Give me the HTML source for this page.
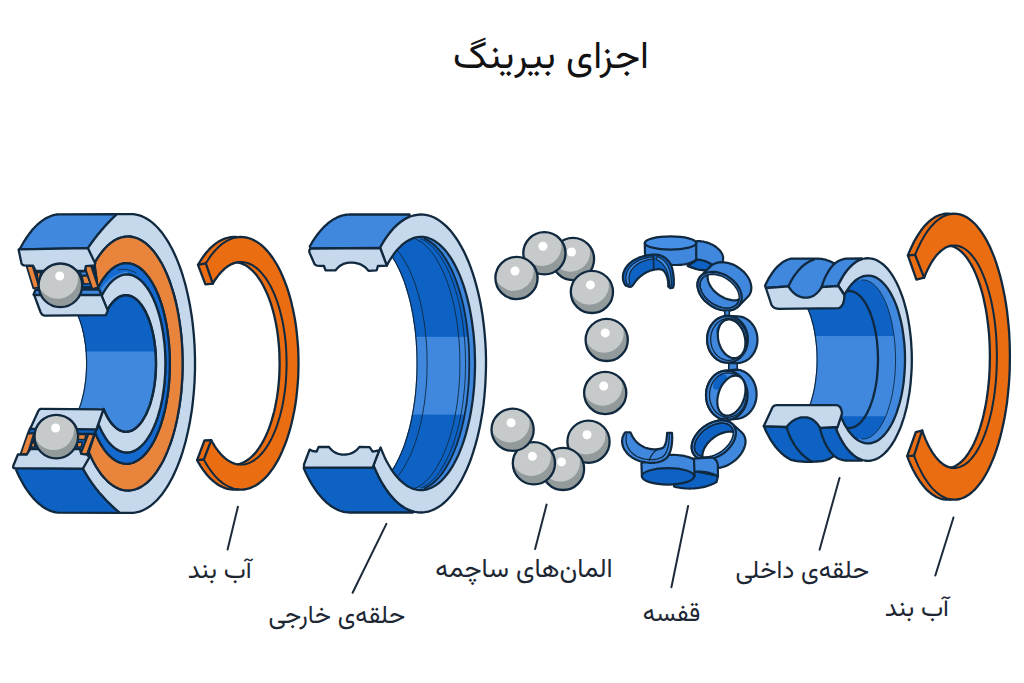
<!DOCTYPE html>
<html lang="fa" dir="rtl">
<head>
<meta charset="utf-8">
<title>اجزای بیرینگ</title>
<style>
html,body{margin:0;padding:0;background:#fff;}
body{width:1024px;height:683px;overflow:hidden;position:relative;}
svg{position:absolute;left:0;top:0;display:block;}
text{font-family:"Vazirmatn","Liberation Sans","DejaVu Sans",sans-serif;fill:#1d2733;}
</style>
</head>
<body>
<svg width="1024" height="683" viewBox="0 0 1024 683">
<g>
<path d="M198 264.9 L198 264.9 L199.7 262 L201.4 259.3 L203.2 256.7 L205 254.3 L206.8 252 L208.7 249.9 L210.6 247.9 L212.6 246.1 L214.6 244.4 L216.6 242.9 L218.6 241.6 L220.7 240.4 L222.7 239.5 L224.8 238.6 L226.9 238 L229 237.5 L231.1 237.2 L233.3 237 L235.4 237 L237.5 237.2 L237.5 237.2 L240.6 237 L243.8 237.1 L246.9 237.7 L250 238.5 L253 239.8 L256.1 241.4 L259.1 243.4 L262 245.7 L264.9 248.4 L267.7 251.4 L270.4 254.8 L273.1 258.5 L275.6 262.5 L278.1 266.7 L280.4 271.3 L282.6 276.2 L284.7 281.3 L286.7 286.6 L288.5 292.2 L290.2 297.9 L291.7 303.9 L293.1 310.1 L294.4 316.4 L295.5 322.8 L296.4 329.4 L297.1 336 L297.7 342.8 L298.2 349.6 L298.4 356.4 L298.5 363.3 L298.4 370.2 L298.2 377 L297.7 383.8 L297.1 390.6 L296.4 397.2 L295.5 403.8 L294.4 410.2 L293.1 416.5 L291.7 422.7 L290.2 428.7 L288.5 434.4 L286.7 440 L284.7 445.3 L282.6 450.4 L280.4 455.3 L278.1 459.9 L275.6 464.1 L273.1 468.1 L270.4 471.8 L267.7 475.2 L264.9 478.2 L262 480.9 L259.1 483.2 L256.1 485.2 L253 486.8 L250 488.1 L246.9 488.9 L243.8 489.5 L240.6 489.6 L237.5 489.4 L237.5 489.4 L235.3 489.6 L233.2 489.6 L231 489.4 L228.8 489.1 L226.6 488.6 L224.5 487.9 L222.4 487 L220.2 485.9 L218.1 484.7 L216.1 483.3 L214 481.7 L212 480 L210 478.1 L208 476 L206.1 473.7 L204.2 471.3 L202.4 468.8 L200.6 466.1 L198.8 463.2 L197.1 460.2 L197.1 460.2 L204.5 440.5 L211.3 440.2 L211.3 440.2 L212.4 442.3 L213.6 444.2 L214.7 446.1 L215.9 447.9 L217.2 449.6 L218.4 451.3 L219.7 452.8 L220.9 454.3 L222.2 455.6 L223.6 456.9 L224.9 458.1 L226.3 459.2 L227.6 460.1 L229 461 L230.4 461.8 L231.8 462.5 L233.2 463.1 L234.6 463.6 L236.1 464 L237.5 464.3 L237.5 464.3 L239.8 463.8 L242 463 L244.2 462 L246.4 460.8 L248.6 459.3 L250.7 457.5 L252.8 455.6 L254.9 453.4 L256.9 451 L258.8 448.3 L260.7 445.5 L262.5 442.4 L264.2 439.2 L265.9 435.7 L267.5 432.1 L269 428.3 L270.4 424.4 L271.7 420.3 L272.9 416.1 L274.1 411.7 L275.1 407.2 L276 402.6 L276.9 397.9 L277.6 393.1 L278.2 388.3 L278.7 383.3 L279.1 378.4 L279.4 373.4 L279.5 368.3 L279.6 363.3 L279.5 358.3 L279.4 353.2 L279.1 348.2 L278.7 343.3 L278.2 338.3 L277.6 333.5 L276.9 328.7 L276 324 L275.1 319.4 L274.1 314.9 L272.9 310.5 L271.7 306.3 L270.4 302.2 L269 298.3 L267.5 294.5 L265.9 290.9 L264.2 287.4 L262.5 284.2 L260.7 281.1 L258.8 278.3 L256.9 275.6 L254.9 273.2 L252.8 271 L250.7 269.1 L248.6 267.3 L246.4 265.8 L244.2 264.6 L242 263.6 L239.8 262.8 L237.5 262.3 L237.5 262.3 L236.2 262.6 L234.8 262.9 L233.5 263.4 L232.2 263.9 L230.8 264.5 L229.5 265.3 L228.2 266 L227 266.9 L225.7 267.9 L224.4 268.9 L223.2 270.1 L221.9 271.3 L220.7 272.6 L219.5 273.9 L218.4 275.4 L217.2 276.9 L216.1 278.5 L214.9 280.2 L213.8 281.9 L212.8 283.7 L212.8 283.7 L205.4 284.3Z" fill="#eb6d12" stroke="#10293f" stroke-width="2.3" stroke-linejoin="round" stroke-linecap="round" />
<path d="M198 264.9 L205.8 263.4" fill="none" stroke="#10293f" stroke-width="2.3" stroke-linejoin="round" stroke-linecap="round" />
<path d="M205.8 263.4 L205.8 263.4 L207.2 261.2 L208.6 259 L210 256.9 L211.5 254.9 L213 253 L214.5 251.2 L216 249.6 L217.6 248 L219.1 246.5 L220.7 245.1 L222.4 243.8 L224 242.6 L225.7 241.6 L227.3 240.6 L229 239.8 L230.7 239.1 L232.4 238.4 L234.1 237.9 L235.8 237.5 L237.5 237.2" fill="none" stroke="#10293f" stroke-width="2.0" stroke-linejoin="round" stroke-linecap="round" />
<path d="M205.8 263.4 L212.8 283.7" fill="none" stroke="#10293f" stroke-width="2.3" stroke-linejoin="round" stroke-linecap="round" />
<path d="M197.1 460.2 L203.8 459.5" fill="none" stroke="#10293f" stroke-width="2.3" stroke-linejoin="round" stroke-linecap="round" />
<path d="M237.5 489.4 L235.7 489.1 L233.8 488.6 L232 488 L230.2 487.3 L228.4 486.5 L226.6 485.5 L224.8 484.5 L223 483.3 L221.3 481.9 L219.5 480.5 L217.8 478.9 L216.1 477.2 L214.5 475.4 L212.9 473.4 L211.3 471.4 L209.7 469.2 L208.2 467 L206.7 464.6 L205.2 462.1 L203.8 459.5 L203.8 459.5" fill="none" stroke="#10293f" stroke-width="2.0" stroke-linejoin="round" stroke-linecap="round" />
<path d="M203.8 459.5 L211.3 440.2" fill="none" stroke="#10293f" stroke-width="2.3" stroke-linejoin="round" stroke-linecap="round" />
<path d="M237.5 262.3 L240 262 L242.5 262.1 L245 262.4 L247.5 263 L250 264 L252.4 265.2 L254.8 266.8 L257.2 268.6 L259.5 270.7 L261.7 273.1 L263.9 275.8 L266.1 278.7 L268.1 281.9 L270.1 285.3 L272 289 L273.8 292.9 L275.5 297 L277.1 301.3 L278.5 305.8 L279.9 310.4 L281.1 315.2 L282.3 320.2 L283.3 325.3 L284.1 330.5 L284.9 335.8 L285.5 341.2 L286 346.7 L286.3 352.2 L286.5 357.7 L286.6 363.3 L286.5 368.9 L286.3 374.4 L286 379.9 L285.5 385.4 L284.9 390.8 L284.1 396.1 L283.3 401.3 L282.3 406.4 L281.1 411.4 L279.9 416.2 L278.5 420.8 L277.1 425.3 L275.5 429.6 L273.8 433.7 L272 437.6 L270.1 441.3 L268.1 444.7 L266.1 447.9 L263.9 450.8 L261.7 453.5 L259.5 455.9 L257.2 458 L254.8 459.8 L252.4 461.4 L250 462.6 L247.5 463.6 L245 464.2 L242.5 464.5 L240 464.6 L237.5 464.3" fill="none" stroke="#10293f" stroke-width="2.0" stroke-linejoin="round" stroke-linecap="round" />
</g>
<g>
<path d="M907.9 255.4 L907.9 255.4 L909.6 251.2 L911.4 247.2 L913.2 243.4 L915.1 239.8 L917.1 236.4 L919.1 233.3 L921.1 230.3 L923.2 227.6 L925.4 225.1 L927.6 222.9 L929.8 220.9 L932 219.1 L934.3 217.6 L936.6 216.3 L939 215.3 L941.3 214.5 L943.6 214 L946 213.7 L948.3 213.7 L950.7 214 L950.7 214 L953.7 213.7 L956.8 213.9 L959.8 214.4 L962.8 215.4 L965.8 216.8 L968.7 218.6 L971.6 220.9 L974.5 223.5 L977.3 226.6 L980 230 L982.7 233.8 L985.2 237.9 L987.7 242.4 L990.1 247.3 L992.3 252.5 L994.5 257.9 L996.5 263.7 L998.4 269.8 L1000.2 276.1 L1001.8 282.6 L1003.3 289.4 L1004.7 296.4 L1005.9 303.5 L1007 310.8 L1007.8 318.2 L1008.6 325.8 L1009.2 333.4 L1009.6 341.2 L1009.8 348.9 L1009.9 356.7 L1009.8 364.5 L1009.6 372.2 L1009.2 380 L1008.6 387.6 L1007.8 395.2 L1007 402.6 L1005.9 409.9 L1004.7 417 L1003.3 424 L1001.8 430.8 L1000.2 437.3 L998.4 443.6 L996.5 449.7 L994.5 455.5 L992.3 460.9 L990.1 466.1 L987.7 471 L985.2 475.5 L982.7 479.6 L980 483.4 L977.3 486.8 L974.5 489.9 L971.6 492.5 L968.7 494.8 L965.8 496.6 L962.8 498 L959.8 499 L956.8 499.5 L953.7 499.7 L950.7 499.4 L950.7 499.4 L948.3 499.7 L945.9 499.7 L943.5 499.4 L941.1 498.8 L938.7 498 L936.3 497 L934 495.6 L931.7 494 L929.4 492.2 L927.1 490.1 L924.9 487.7 L922.7 485.1 L920.6 482.3 L918.5 479.2 L916.4 475.9 L914.5 472.4 L912.5 468.7 L910.7 464.7 L908.9 460.6 L907.2 456.2 L907.2 456.2 L915.8 432.1 L922.2 430.5 L922.2 430.5 L923.3 433.6 L924.5 436.7 L925.7 439.6 L926.9 442.3 L928.2 445 L929.5 447.5 L930.9 449.9 L932.2 452.1 L933.7 454.3 L935.1 456.2 L936.6 458.1 L938.1 459.7 L939.6 461.3 L941.1 462.7 L942.7 463.9 L944.3 464.9 L945.9 465.9 L947.5 466.6 L949.1 467.2 L950.7 467.6 L950.7 467.6 L952.8 467 L954.9 466.2 L957 465 L959 463.6 L961 462 L963 460.1 L965 457.9 L966.9 455.5 L968.7 452.8 L970.5 449.9 L972.3 446.8 L974 443.4 L975.6 439.8 L977.1 436.1 L978.6 432.1 L980 428 L981.3 423.6 L982.6 419.1 L983.7 414.5 L984.7 409.7 L985.7 404.8 L986.6 399.7 L987.3 394.6 L988 389.4 L988.6 384 L989.1 378.6 L989.4 373.2 L989.7 367.7 L989.8 362.2 L989.9 356.7 L989.8 351.2 L989.7 345.7 L989.4 340.2 L989.1 334.8 L988.6 329.4 L988 324 L987.3 318.8 L986.6 313.7 L985.7 308.6 L984.7 303.7 L983.7 298.9 L982.6 294.3 L981.3 289.8 L980 285.4 L978.6 281.3 L977.1 277.3 L975.6 273.6 L974 270 L972.3 266.6 L970.5 263.5 L968.7 260.6 L966.9 257.9 L965 255.5 L963 253.3 L961 251.4 L959 249.8 L957 248.4 L954.9 247.2 L952.8 246.4 L950.7 245.8 L950.7 245.8 L949.2 246.2 L947.7 246.7 L946.3 247.3 L944.8 248.1 L943.4 249.1 L941.9 250.1 L940.5 251.3 L939.1 252.6 L937.7 254 L936.3 255.6 L935 257.3 L933.7 259.1 L932.4 261 L931.1 263.1 L929.9 265.2 L928.7 267.5 L927.5 269.9 L926.3 272.4 L925.2 275 L924.1 277.7 L924.1 277.7 L916.4 279.7Z" fill="#eb6d12" stroke="#10293f" stroke-width="2.3" stroke-linejoin="round" stroke-linecap="round" />
<path d="M907.9 255.4 L915.1 254.9" fill="none" stroke="#10293f" stroke-width="2.3" stroke-linejoin="round" stroke-linecap="round" />
<path d="M915.1 254.9 L915.1 254.9 L916.5 251.4 L918 248 L919.6 244.7 L921.1 241.6 L922.8 238.7 L924.4 235.8 L926.1 233.2 L927.9 230.7 L929.6 228.4 L931.4 226.2 L933.3 224.2 L935.1 222.3 L937 220.7 L938.9 219.2 L940.9 217.9 L942.8 216.7 L944.8 215.8 L946.7 215 L948.7 214.4 L950.7 214" fill="none" stroke="#10293f" stroke-width="2.0" stroke-linejoin="round" stroke-linecap="round" />
<path d="M915.1 254.9 L924.1 277.7" fill="none" stroke="#10293f" stroke-width="2.3" stroke-linejoin="round" stroke-linecap="round" />
<path d="M907.2 456.2 L914 455.7" fill="none" stroke="#10293f" stroke-width="2.3" stroke-linejoin="round" stroke-linecap="round" />
<path d="M950.7 499.4 L948.6 499 L946.6 498.4 L944.5 497.5 L942.5 496.5 L940.5 495.3 L938.5 493.9 L936.5 492.3 L934.6 490.5 L932.6 488.6 L930.7 486.4 L928.9 484.1 L927.1 481.6 L925.3 478.9 L923.5 476.1 L921.8 473 L920.2 469.9 L918.5 466.6 L917 463.1 L915.5 459.4 L914 455.7 L914 455.7" fill="none" stroke="#10293f" stroke-width="2.0" stroke-linejoin="round" stroke-linecap="round" />
<path d="M914 455.7 L922.2 430.5" fill="none" stroke="#10293f" stroke-width="2.3" stroke-linejoin="round" stroke-linecap="round" />
<path d="M950.7 245.8 L953 245.4 L955.4 245.4 L957.7 245.8 L960.1 246.5 L962.4 247.5 L964.7 248.8 L967 250.5 L969.2 252.5 L971.4 254.8 L973.5 257.4 L975.6 260.3 L977.6 263.5 L979.5 267 L981.4 270.8 L983.1 274.8 L984.8 279.1 L986.4 283.6 L987.9 288.4 L989.3 293.3 L990.6 298.4 L991.8 303.7 L992.8 309.2 L993.8 314.8 L994.6 320.6 L995.3 326.4 L995.9 332.4 L996.3 338.4 L996.6 344.5 L996.8 350.6 L996.9 356.7 L996.8 362.8 L996.6 368.9 L996.3 375 L995.9 381 L995.3 387 L994.6 392.8 L993.8 398.6 L992.8 404.2 L991.8 409.7 L990.6 415 L989.3 420.1 L987.9 425 L986.4 429.8 L984.8 434.3 L983.1 438.6 L981.4 442.6 L979.5 446.4 L977.6 449.9 L975.6 453.1 L973.5 456 L971.4 458.6 L969.2 460.9 L967 462.9 L964.7 464.6 L962.4 465.9 L960.1 466.9 L957.7 467.6 L955.4 468 L953 468 L950.7 467.6" fill="none" stroke="#10293f" stroke-width="2.0" stroke-linejoin="round" stroke-linecap="round" />
</g>
<g>
<clipPath id="ob"><path d="M387.8 263.7 L390.2 259.5 L392.7 255.7 L395.3 252.1 L398 248.9 L400.8 246.1 L403.6 243.7 L406.5 241.6 L409.4 239.9 L412.4 238.5 L415.4 237.6 L418.4 237.1 L421.4 236.9 L424.4 237.1 L427.4 237.8 L430.4 238.8 L433.3 240.2 L436.2 242.1 L439.1 244.2 L441.9 246.8 L444.7 249.7 L447.3 253 L449.9 256.6 L452.4 260.6 L454.8 264.8 L457.1 269.4 L459.3 274.3 L461.4 279.4 L463.3 284.9 L465.1 290.5 L466.8 296.4 L468.3 302.5 L469.7 308.8 L470.9 315.3 L472 321.9 L472.9 328.6 L473.7 335.5 L474.2 342.4 L474.7 349.4 L474.9 356.4 L475 363.5 L474.9 370.6 L474.7 377.6 L474.2 384.6 L473.7 391.5 L472.9 398.4 L472 405.1 L470.9 411.7 L469.7 418.2 L468.3 424.5 L466.8 430.6 L465.1 436.5 L463.3 442.1 L461.4 447.6 L459.3 452.7 L457.1 457.6 L454.8 462.2 L452.4 466.4 L449.9 470.4 L447.3 474 L444.7 477.3 L441.9 480.2 L439.1 482.8 L436.2 484.9 L433.3 486.8 L430.4 488.2 L427.4 489.2 L424.4 489.9 L421.4 490.1 L418.4 489.9 L415.4 489.4 L412.4 488.5 L409.4 487.1 L406.5 485.4 L403.6 483.3 L400.8 480.9 L398 478.1 L395.3 474.9 L392.7 471.3 L390.2 467.5 L387.8 463.3 L376.5 485.8 L378.7 484.2 L381 482.5 L383.2 480.5 L385.3 478.2 L387.4 475.8 L389.5 473.1 L391.5 470.3 L393.5 467.2 L395.4 463.9 L397.2 460.5 L399 456.8 L400.7 453 L402.3 449 L403.9 444.9 L405.3 440.6 L406.7 436.1 L408 431.5 L409.3 426.8 L410.4 422 L411.4 417 L412.4 411.9 L413.2 406.8 L414 401.6 L414.7 396.3 L415.2 390.9 L415.7 385.5 L416 380 L416.3 374.5 L416.4 369 L416.5 363.5 L416.4 358 L416.3 352.5 L416 347 L415.7 341.5 L415.2 336.1 L414.7 330.7 L414 325.4 L413.2 320.2 L412.4 315.1 L411.4 310 L410.4 305 L409.3 300.2 L408 295.5 L406.7 290.9 L405.3 286.4 L403.9 282.1 L402.3 278 L400.7 274 L399 270.2 L397.2 266.5 L395.4 263.1 L393.5 259.8 L391.5 256.7 L389.5 253.9 L387.4 251.2 L385.3 248.8 L383.2 246.5 L381 244.5 L378.7 242.8 L376.5 241.2Z"/></clipPath>
<g clip-path="url(#ob)">
<rect x="330" y="200" width="160" height="137.3" fill="#0e62c4"/>
<rect x="330" y="336.8" width="160" height="78.3" fill="#3f88de"/>
<rect x="330" y="414.6" width="160" height="115.9" fill="#0e62c4"/>
<path d="M411.6 238.8 L414.7 237.8 L417.9 237.1 L421 236.9 L424.1 237.1 L427.3 237.8 L430.4 238.8 L433.5 240.3 L436.5 242.2 L439.5 244.5 L442.4 247.3 L445.2 250.4 L448 253.9 L450.7 257.7 L453.2 262 L455.7 266.5 L458.1 271.4 L460.3 276.6 L462.4 282.1 L464.3 287.9 L466.1 293.9 L467.8 300.2 L469.3 306.7 L470.6 313.4 L471.7 320.2 L472.7 327.2 L473.5 334.3 L474.2 341.5 L474.6 348.8 L474.9 356.1 L475 363.5 L474.9 370.9 L474.6 378.2 L474.2 385.5 L473.5 392.7 L472.7 399.8 L471.7 406.8 L470.6 413.6 L469.3 420.3 L467.8 426.8 L466.1 433.1 L464.3 439.1 L462.4 444.9 L460.3 450.4 L458.1 455.6 L455.7 460.5 L453.2 465 L450.7 469.3 L448 473.1 L445.2 476.6 L442.4 479.7 L439.5 482.5 L436.5 484.8 L433.5 486.7 L430.4 488.2 L427.3 489.2 L424.1 489.9 L421 490.1 L417.9 489.9 L414.7 489.2 L411.6 488.2 L424.7 488.2 L427.1 487 L429.6 485.6 L432 483.9 L434.4 482 L436.7 479.7 L439 477.3 L441.2 474.6 L443.4 471.6 L445.5 468.5 L447.5 465 L449.5 461.4 L451.4 457.6 L453.3 453.5 L455 449.3 L456.7 444.9 L458.2 440.3 L459.7 435.5 L461.1 430.6 L462.4 425.5 L463.6 420.3 L464.6 415 L465.6 409.6 L466.5 404 L467.2 398.4 L467.8 392.7 L468.4 386.9 L468.8 381.1 L469.1 375.3 L469.2 369.4 L469.3 363.5 L469.2 357.6 L469.1 351.7 L468.8 345.9 L468.4 340.1 L467.8 334.3 L467.2 328.6 L466.5 323 L465.6 317.4 L464.6 312 L463.6 306.7 L462.4 301.5 L461.1 296.4 L459.7 291.5 L458.2 286.7 L456.7 282.1 L455 277.7 L453.3 273.5 L451.4 269.4 L449.5 265.6 L447.5 262 L445.5 258.5 L443.4 255.4 L441.2 252.4 L439 249.7 L436.7 247.3 L434.4 245 L432 243.1 L429.6 241.4 L427.1 240 L424.7 238.8Z" fill="#3f88de" stroke="none" stroke-width="0" stroke-linejoin="round" stroke-linecap="round" />
<path d="M382.5 238.8 L384.9 240 L387.4 241.4 L389.8 243.1 L392.2 245 L394.5 247.3 L396.8 249.7 L399 252.4 L401.2 255.4 L403.3 258.5 L405.3 262 L407.3 265.6 L409.2 269.4 L411.1 273.5 L412.8 277.7 L414.5 282.1 L416 286.7 L417.5 291.5 L418.9 296.4 L420.2 301.5 L421.4 306.7 L422.4 312 L423.4 317.4 L424.3 323 L425 328.6 L425.6 334.3 L426.2 340.1 L426.6 345.9 L426.9 351.7 L427 357.6 L427.1 363.5 L427 369.4 L426.9 375.3 L426.6 381.1 L426.2 386.9 L425.6 392.7 L425 398.4 L424.3 404 L423.4 409.6 L422.4 415 L421.4 420.3 L420.2 425.5 L418.9 430.6 L417.5 435.5 L416 440.3 L414.5 444.9 L412.8 449.3 L411.1 453.5 L409.2 457.6 L407.3 461.4 L405.3 465 L403.3 468.5 L401.2 471.6 L399 474.6 L396.8 477.3 L394.5 479.7 L392.2 482 L389.8 483.9 L387.4 485.6 L384.9 487 L382.5 488.2" fill="none" stroke="#10293f" stroke-width="0.9" stroke-linejoin="round" stroke-linecap="round" />
<path d="M415.3 238.8 L417.7 240 L420.2 241.4 L422.6 243.1 L425 245 L427.3 247.3 L429.6 249.7 L431.8 252.4 L434 255.4 L436.1 258.5 L438.1 262 L440.1 265.6 L442 269.4 L443.9 273.5 L445.6 277.7 L447.3 282.1 L448.8 286.7 L450.3 291.5 L451.7 296.4 L453 301.5 L454.2 306.7 L455.2 312 L456.2 317.4 L457.1 323 L457.8 328.6 L458.4 334.3 L459 340.1 L459.4 345.9 L459.7 351.7 L459.8 357.6 L459.9 363.5 L459.8 369.4 L459.7 375.3 L459.4 381.1 L459 386.9 L458.4 392.7 L457.8 398.4 L457.1 404 L456.2 409.6 L455.2 415 L454.2 420.3 L453 425.5 L451.7 430.6 L450.3 435.5 L448.8 440.3 L447.3 444.9 L445.6 449.3 L443.9 453.5 L442 457.6 L440.1 461.4 L438.1 465 L436.1 468.5 L434 471.6 L431.8 474.6 L429.6 477.3 L427.3 479.7 L425 482 L422.6 483.9 L420.2 485.6 L417.7 487 L415.3 488.2" fill="none" stroke="#10293f" stroke-width="0.9" stroke-linejoin="round" stroke-linecap="round" />
<path d="M420.9 238.8 L423.3 240 L425.8 241.4 L428.2 243.1 L430.6 245 L432.9 247.3 L435.2 249.7 L437.4 252.4 L439.6 255.4 L441.7 258.5 L443.7 262 L445.7 265.6 L447.6 269.4 L449.5 273.5 L451.2 277.7 L452.9 282.1 L454.4 286.7 L455.9 291.5 L457.3 296.4 L458.6 301.5 L459.8 306.7 L460.8 312 L461.8 317.4 L462.7 323 L463.4 328.6 L464 334.3 L464.6 340.1 L465 345.9 L465.3 351.7 L465.4 357.6 L465.5 363.5 L465.4 369.4 L465.3 375.3 L465 381.1 L464.6 386.9 L464 392.7 L463.4 398.4 L462.7 404 L461.8 409.6 L460.8 415 L459.8 420.3 L458.6 425.5 L457.3 430.6 L455.9 435.5 L454.4 440.3 L452.9 444.9 L451.2 449.3 L449.5 453.5 L447.6 457.6 L445.7 461.4 L443.7 465 L441.7 468.5 L439.6 471.6 L437.4 474.6 L435.2 477.3 L432.9 479.7 L430.6 482 L428.2 483.9 L425.8 485.6 L423.3 487 L420.9 488.2" fill="none" stroke="#10293f" stroke-width="0.9" stroke-linejoin="round" stroke-linecap="round" />
<path d="M424.7 238.8 L427.1 240 L429.6 241.4 L432 243.1 L434.4 245 L436.7 247.3 L439 249.7 L441.2 252.4 L443.4 255.4 L445.5 258.5 L447.5 262 L449.5 265.6 L451.4 269.4 L453.3 273.5 L455 277.7 L456.7 282.1 L458.2 286.7 L459.7 291.5 L461.1 296.4 L462.4 301.5 L463.6 306.7 L464.6 312 L465.6 317.4 L466.5 323 L467.2 328.6 L467.8 334.3 L468.4 340.1 L468.8 345.9 L469.1 351.7 L469.2 357.6 L469.3 363.5 L469.2 369.4 L469.1 375.3 L468.8 381.1 L468.4 386.9 L467.8 392.7 L467.2 398.4 L466.5 404 L465.6 409.6 L464.6 415 L463.6 420.3 L462.4 425.5 L461.1 430.6 L459.7 435.5 L458.2 440.3 L456.7 444.9 L455 449.3 L453.3 453.5 L451.4 457.6 L449.5 461.4 L447.5 465 L445.5 468.5 L443.4 471.6 L441.2 474.6 L439 477.3 L436.7 479.7 L434.4 482 L432 483.9 L429.6 485.6 L427.1 487 L424.7 488.2" fill="none" stroke="#10293f" stroke-width="1.8" stroke-linejoin="round" stroke-linecap="round" />
<path d="M376.5 241.2 L378.7 242.8 L381 244.5 L383.2 246.5 L385.3 248.8 L387.4 251.2 L389.5 253.9 L391.5 256.7 L393.5 259.8 L395.4 263.1 L397.2 266.5 L399 270.2 L400.7 274 L402.3 278 L403.9 282.1 L405.3 286.4 L406.7 290.9 L408 295.5 L409.3 300.2 L410.4 305 L411.4 310 L412.4 315.1 L413.2 320.2 L414 325.4 L414.7 330.7 L415.2 336.1 L415.7 341.5 L416 347 L416.3 352.5 L416.4 358 L416.5 363.5 L416.4 369 L416.3 374.5 L416 380 L415.7 385.5 L415.2 390.9 L414.7 396.3 L414 401.6 L413.2 406.8 L412.4 411.9 L411.4 417 L410.4 422 L409.3 426.8 L408 431.5 L406.7 436.1 L405.3 440.6 L403.9 444.9 L402.3 449 L400.7 453 L399 456.8 L397.2 460.5 L395.4 463.9 L393.5 467.2 L391.5 470.3 L389.5 473.1 L387.4 475.8 L385.3 478.2 L383.2 480.5 L381 482.5 L378.7 484.2 L376.5 485.8" fill="none" stroke="#10293f" stroke-width="2.3" stroke-linejoin="round" stroke-linecap="round" />
</g>
<path d="M310.6 248.6 L309.8 246.4 L311.3 243.8 L312.7 241.4 L314.2 239.1 L315.7 236.9 L317.3 234.7 L318.9 232.7 L320.5 230.8 L322.1 229 L323.7 227.2 L325.4 225.6 L327.1 224.1 L328.7 222.7 L330.5 221.4 L332.2 220.2 L333.9 219.1 L335.7 218.2 L337.4 217.3 L339.2 216.6 L341 215.9 L342.8 215.4 L344.6 215 L346.4 214.7 L348.2 214.6 L350 214.5 L409.5 214.5 L409.6 216.8 L407.6 217.7 L405.6 218.7 L403.6 219.9 L401.7 221.2 L399.7 222.7 L397.8 224.3 L395.9 226.1 L394 228 L392.2 230 L390.3 232.1 L388.5 234.4 L386.8 236.8 L385.1 239.4 L383.4 242 L381.7 244.8 L380.1 247.7 L380.2 248Z" fill="#3f88de" stroke="#10293f" stroke-width="2.3" stroke-linejoin="round" stroke-linecap="round" />
<path d="M304 467.4 L303.7 468.1 L305.2 471.5 L306.8 474.9 L308.4 478.1 L310.1 481.1 L311.8 484.1 L313.6 486.9 L315.4 489.6 L317.2 492.2 L319.1 494.6 L321 496.8 L322.9 499 L324.9 500.9 L326.9 502.8 L328.9 504.4 L331 506 L333 507.3 L335.1 508.5 L337.2 509.6 L339.3 510.5 L341.4 511.2 L343.6 511.8 L345.7 512.2 L347.9 512.4 L350 512.5 L413 512.5 L412.1 511.1 L409.3 510.1 L406.6 508.8 L404 507.3 L401.3 505.5 L398.7 503.5 L396.1 501.2 L393.6 498.6 L391.1 495.8 L388.7 492.8 L386.3 489.5 L384 486.1 L381.8 482.3 L379.6 478.4 L377.5 474.3 L375.5 470 L373.6 465.5 L372.6 467.6Z" fill="#0e62c4" stroke="#10293f" stroke-width="2.3" stroke-linejoin="round" stroke-linecap="round" />
<path d="M380.2 248 L380.1 247.7 L382.8 243 L385.5 238.7 L388.4 234.6 L391.3 231 L394.3 227.6 L397.4 224.7 L400.6 222.1 L403.8 219.8 L407 218 L410.3 216.5 L413.6 215.5 L417 214.8 L420.3 214.5 L423.7 214.6 L427 215.1 L430.3 216 L433.6 217.3 L436.9 219 L440.1 221.1 L443.3 223.6 L446.4 226.4 L449.5 229.6 L452.4 233.1 L455.3 237 L458.1 241.2 L460.8 245.8 L463.4 250.6 L465.9 255.8 L468.3 261.2 L470.5 266.9 L472.6 272.9 L474.6 279.1 L476.4 285.6 L478.1 292.2 L479.6 299.1 L481 306.1 L482.2 313.2 L483.2 320.5 L484.1 327.9 L484.8 335.4 L485.4 343 L485.8 350.6 L486 358.3 L486 366 L485.8 373.7 L485.5 381.3 L485 388.9 L484.4 396.4 L483.6 403.9 L482.6 411.2 L481.4 418.4 L480.1 425.5 L478.6 432.4 L477 439.1 L475.2 445.6 L473.3 451.9 L471.3 458 L469.1 463.8 L466.8 469.3 L464.3 474.6 L461.8 479.6 L459.1 484.2 L456.3 488.6 L453.5 492.6 L450.5 496.2 L447.5 499.6 L444.4 502.5 L441.3 505.1 L438 507.3 L434.8 509.1 L431.5 510.5 L428.2 511.6 L424.8 512.2 L421.5 512.5 L418.1 512.4 L414.8 511.8 L411.5 510.9 L408.2 509.6 L404.9 507.9 L401.7 505.8 L398.5 503.3 L395.4 500.5 L392.4 497.3 L389.4 493.7 L386.5 489.8 L383.7 485.5 L381 481 L378.4 476.1 L376 470.9 L373.6 465.5 L372.6 467.6 L379.2 450.4 L380.6 447.5 L382.5 452.3 L384.5 456.9 L386.6 461.2 L388.9 465.2 L391.1 469 L393.5 472.5 L396 475.7 L398.5 478.6 L401.1 481.2 L403.7 483.4 L406.4 485.4 L409.1 487 L411.8 488.3 L414.6 489.2 L417.4 489.8 L420.2 490.1 L423 490 L425.8 489.6 L428.6 488.8 L431.4 487.7 L434.1 486.3 L436.8 484.6 L439.5 482.5 L442.1 480.1 L444.6 477.3 L447.1 474.3 L449.5 471 L451.9 467.4 L454.1 463.5 L456.3 459.3 L458.4 454.9 L460.3 450.2 L462.2 445.3 L464 440.2 L465.6 434.9 L467.1 429.3 L468.5 423.6 L469.8 417.8 L470.9 411.8 L471.9 405.6 L472.8 399.4 L473.5 393 L474.1 386.6 L474.5 380.1 L474.8 373.6 L475 367 L475 360.4 L474.8 353.9 L474.6 347.3 L474.1 340.8 L473.6 334.4 L472.8 328 L472 321.8 L471 315.6 L469.9 309.6 L468.6 303.7 L467.2 298 L465.7 292.5 L464.1 287.1 L462.3 282 L460.5 277.1 L458.5 272.4 L456.4 268 L454.3 263.8 L452 259.9 L449.7 256.2 L447.3 252.9 L444.8 249.8 L442.2 247.1 L439.6 244.7 L437 242.6 L434.3 240.8 L431.5 239.3 L428.8 238.2 L426 237.4 L423.2 237 L420.4 236.9 L417.6 237.2 L414.8 237.7 L412 238.7 L409.3 239.9 L406.6 241.5 L403.9 243.4 L401.2 245.7 L398.7 248.2 L396.1 251.1 L393.7 254.3 L391.3 257.8 L389 261.5 L386.8 265.6 L386.8 265.6Z" fill="#c6d8ec" stroke="#10293f" stroke-width="2.3" stroke-linejoin="round" stroke-linecap="round" />
<path d="M309.4 252.4 L309.4 252 L309.3 251.6 L309.3 251.3 L309.3 250.9 L309.4 250.6 L309.4 250.3 L309.5 250.1 L309.6 249.8 L309.7 249.6 L309.9 249.4 L310 249.2 L310.2 249.1 L310.4 248.9 L310.7 248.8 L310.9 248.7 L311.2 248.6 L311.5 248.6 L311.8 248.5 L312.1 248.5 L312.5 248.5 L380.2 248 L386.8 265.6 L377.9 266 L376.7 270.3 L368.5 270.8 L367.8 270 L367.1 269.2 L366.4 268.4 L365.6 267.7 L364.9 267.1 L364.1 266.5 L363.2 265.9 L362.4 265.4 L361.6 264.9 L360.7 264.5 L359.8 264.1 L358.9 263.8 L358 263.5 L357 263.3 L356.1 263.1 L355.1 262.9 L354.1 262.8 L353.1 262.7 L352 262.6 L351 262.6 L350 262.6 L349 262.7 L348 262.8 L347 262.9 L346.1 263.1 L345.2 263.4 L344.4 263.6 L343.5 263.9 L342.7 264.3 L342 264.7 L341.2 265.1 L340.5 265.5 L339.8 266 L339.1 266.5 L338.5 267.1 L337.9 267.7 L337.3 268.3 L336.7 268.9 L336.2 269.6 L335.7 270.3 L325.5 270.3 L324 266 L316.8 265.6 L314.6 264.2Z" fill="#c6d8ec" stroke="#10293f" stroke-width="2.3" stroke-linejoin="round" stroke-linecap="round" />
<path d="M304 467.4 L372.6 467.6 L379.2 450.4 L372.6 451.6 L369.6 447.2 L359.4 447 L358.7 447.8 L358.1 448.5 L357.4 449.2 L356.7 449.9 L356 450.5 L355.3 451.1 L354.5 451.6 L353.8 452.1 L353 452.5 L352.2 452.9 L351.4 453.2 L350.6 453.5 L349.8 453.8 L349 454 L348.1 454.2 L347.2 454.3 L346.3 454.5 L345.4 454.5 L344.5 454.6 L343.5 454.6 L342.5 454.6 L341.6 454.5 L340.7 454.4 L339.8 454.2 L339 454 L338.2 453.8 L337.4 453.5 L336.6 453.2 L335.8 452.9 L335.1 452.5 L334.4 452.1 L333.7 451.6 L333.1 451.1 L332.4 450.6 L331.8 450.1 L331.2 449.5 L330.6 448.9 L330.1 448.3 L329.5 447.7 L329 447 L318.6 447 L316.6 451.6 L312.5 451 L309.6 449.6 L304 464.5Z" fill="#c6d8ec" stroke="#10293f" stroke-width="2.3" stroke-linejoin="round" stroke-linecap="round" />
</g>
<g>
<clipPath id="ib"><path d="M839.7 305.6 L841.2 301.7 L842.8 298.1 L844.5 294.8 L846.3 291.6 L848.1 288.7 L850.1 286.1 L852.1 283.8 L854.1 281.7 L856.3 279.9 L858.4 278.5 L860.6 277.3 L862.9 276.4 L865.1 275.9 L867.4 275.6 L869.6 275.7 L871.9 276.1 L874.1 276.8 L876.3 277.8 L878.5 279.1 L880.7 280.7 L882.8 282.6 L884.8 284.7 L886.8 287.2 L888.7 289.9 L890.5 292.9 L892.3 296.2 L893.9 299.7 L895.5 303.4 L897 307.3 L898.3 311.4 L899.5 315.7 L900.7 320.1 L901.7 324.7 L902.5 329.4 L903.3 334.3 L903.9 339.2 L904.4 344.2 L904.7 349.3 L904.9 354.4 L905 359.5 L904.9 364.6 L904.7 369.7 L904.4 374.8 L903.9 379.8 L903.3 384.7 L902.5 389.6 L901.7 394.3 L900.7 398.9 L899.5 403.3 L898.3 407.6 L897 411.7 L895.5 415.6 L893.9 419.3 L892.3 422.8 L890.5 426.1 L888.7 429.1 L886.8 431.8 L884.8 434.3 L882.8 436.4 L880.7 438.3 L878.5 439.9 L876.3 441.2 L874.1 442.2 L871.9 442.9 L869.6 443.3 L867.4 443.4 L865.1 443.1 L862.9 442.6 L860.6 441.7 L858.4 440.5 L856.3 439.1 L854.1 437.3 L852.1 435.2 L850.1 432.9 L848.1 430.3 L846.3 427.4 L844.5 424.2 L842.8 420.9 L841.2 417.3 L839.7 413.4 L791.7 428.4 L793.1 427.8 L794.4 427 L795.8 426.1 L797.1 425 L798.4 423.8 L799.7 422.4 L800.9 420.9 L802.1 419.3 L803.3 417.5 L804.4 415.6 L805.5 413.6 L806.6 411.5 L807.6 409.3 L808.6 406.9 L809.5 404.5 L810.4 402 L811.2 399.3 L811.9 396.6 L812.7 393.8 L813.3 390.9 L813.9 388 L814.4 385 L814.9 381.9 L815.3 378.8 L815.7 375.6 L816 372.5 L816.2 369.2 L816.4 366 L816.5 362.8 L816.5 359.5 L816.5 356.2 L816.4 353 L816.2 349.8 L816 346.5 L815.7 343.4 L815.3 340.2 L814.9 337.1 L814.4 334 L813.9 331 L813.3 328.1 L812.7 325.2 L811.9 322.4 L811.2 319.7 L810.4 317 L809.5 314.5 L808.6 312.1 L807.6 309.7 L806.6 307.5 L805.5 305.4 L804.4 303.4 L803.3 301.5 L802.1 299.7 L800.9 298.1 L799.7 296.6 L798.4 295.2 L797.1 294 L795.8 292.9 L794.4 292 L793.1 291.2 L791.7 290.6Z"/></clipPath>
<g clip-path="url(#ib)">
<rect x="780" y="250" width="140" height="86.8" fill="#0e62c4"/>
<rect x="780" y="336.3" width="140" height="80.3" fill="#3f88de"/>
<rect x="780" y="416.1" width="140" height="54.4" fill="#0e62c4"/>
<path d="M855.3 280.7 L857.6 279 L859.9 277.6 L862.2 276.6 L864.6 276 L866.9 275.6 L869.3 275.7 L871.7 276 L874 276.7 L876.3 277.8 L878.6 279.1 L880.9 280.8 L883 282.9 L885.2 285.2 L887.2 287.8 L889.2 290.8 L891.1 294 L892.9 297.5 L894.6 301.2 L896.2 305.2 L897.7 309.4 L899 313.8 L900.3 318.4 L901.3 323.2 L902.3 328.1 L903.1 333.1 L903.8 338.3 L904.3 343.5 L904.7 348.8 L904.9 354.1 L905 359.5 L904.9 364.9 L904.7 370.2 L904.3 375.5 L903.8 380.7 L903.1 385.9 L902.3 390.9 L901.3 395.8 L900.3 400.6 L899 405.2 L897.7 409.6 L896.2 413.8 L894.6 417.8 L892.9 421.5 L891.1 425 L889.2 428.2 L887.2 431.2 L885.2 433.8 L883 436.1 L880.9 438.2 L878.6 439.9 L876.3 441.2 L874 442.3 L871.7 443 L869.3 443.3 L866.9 443.4 L864.6 443 L862.2 442.4 L859.9 441.4 L857.6 440 L855.3 438.3 L860.2 438.7 L862 439 L863.8 439 L865.5 438.8 L867.3 438.3 L869.1 437.6 L870.9 436.6 L872.6 435.5 L874.3 434 L876 432.4 L877.6 430.5 L879.2 428.5 L880.7 426.2 L882.2 423.7 L883.6 421 L885 418.1 L886.2 415.1 L887.5 411.8 L888.6 408.4 L889.7 404.9 L890.7 401.2 L891.6 397.4 L892.4 393.5 L893.1 389.5 L893.7 385.4 L894.3 381.2 L894.7 376.9 L895.1 372.6 L895.3 368.3 L895.5 363.9 L895.5 359.5 L895.5 355.1 L895.3 350.7 L895.1 346.4 L894.7 342.1 L894.3 337.8 L893.7 333.6 L893.1 329.5 L892.4 325.5 L891.6 321.6 L890.7 317.8 L889.7 314.1 L888.6 310.6 L887.5 307.2 L886.2 303.9 L885 300.9 L883.6 298 L882.2 295.3 L880.7 292.8 L879.2 290.5 L877.6 288.5 L876 286.6 L874.3 285 L872.6 283.5 L870.9 282.4 L869.1 281.4 L867.3 280.7 L865.5 280.2 L863.8 280 L862 280 L860.2 280.3Z" fill="#3f88de" stroke="none" stroke-width="0" stroke-linejoin="round" stroke-linecap="round" />
<path d="M861.9 280 L863.6 280 L865.3 280.2 L867.1 280.6 L868.8 281.3 L870.5 282.1 L872.2 283.2 L873.8 284.5 L875.5 286.1 L877 287.8 L878.6 289.7 L880.1 291.9 L881.5 294.2 L882.9 296.7 L884.3 299.4 L885.6 302.3 L886.8 305.3 L887.9 308.5 L889 311.9 L890 315.4 L891 319 L891.8 322.7 L892.6 326.5 L893.2 330.4 L893.8 334.4 L894.3 338.5 L894.8 342.6 L895.1 346.8 L895.3 351 L895.5 355.2 L895.5 359.5 L895.5 363.8 L895.3 368 L895.1 372.2 L894.8 376.4 L894.3 380.5 L893.8 384.6 L893.2 388.6 L892.6 392.5 L891.8 396.3 L891 400 L890 403.6 L889 407.1 L887.9 410.5 L886.8 413.7 L885.6 416.7 L884.3 419.6 L882.9 422.3 L881.5 424.8 L880.1 427.1 L878.6 429.3 L877 431.2 L875.5 432.9 L873.8 434.5 L872.2 435.8 L870.5 436.9 L868.8 437.7 L867.1 438.4 L865.3 438.8 L863.6 439 L861.9 439" fill="none" stroke="#10293f" stroke-width="0.9" stroke-linejoin="round" stroke-linecap="round" />
<path d="M836.7 297.4 L838.5 295.6 L840.4 294.1 L842.2 292.9 L844.1 292 L846.1 291.4 L848 291 L849.9 291 L851.9 291.3 L853.8 291.9 L855.7 292.8 L857.6 294.1 L859.4 295.5 L861.2 297.3 L862.9 299.4 L864.6 301.7 L866.2 304.3 L867.7 307.2 L869.1 310.2 L870.5 313.5 L871.7 317 L872.9 320.7 L873.9 324.6 L874.9 328.6 L875.7 332.7 L876.4 337 L877 341.4 L877.4 345.8 L877.7 350.4 L877.9 354.9 L878 359.5 L877.9 364.1 L877.7 368.6 L877.4 373.2 L877 377.6 L876.4 382 L875.7 386.3 L874.9 390.4 L873.9 394.4 L872.9 398.3 L871.7 402 L870.5 405.5 L869.1 408.8 L867.7 411.8 L866.2 414.7 L864.6 417.3 L862.9 419.6 L861.2 421.7 L859.4 423.5 L857.6 424.9 L855.7 426.2 L853.8 427.1 L851.9 427.7 L849.9 428 L848 428 L846.1 427.6 L844.1 427 L842.2 426.1 L840.4 424.9 L838.5 423.4 L836.7 421.6" fill="none" stroke="#10293f" stroke-width="2.3" stroke-linejoin="round" stroke-linecap="round" />
<path d="M791.7 290.6 L793.1 291.2 L794.4 292 L795.8 292.9 L797.1 294 L798.4 295.2 L799.7 296.6 L800.9 298.1 L802.1 299.7 L803.3 301.5 L804.4 303.4 L805.5 305.4 L806.6 307.5 L807.6 309.7 L808.6 312.1 L809.5 314.5 L810.4 317 L811.2 319.7 L811.9 322.4 L812.7 325.2 L813.3 328.1 L813.9 331 L814.4 334 L814.9 337.1 L815.3 340.2 L815.7 343.4 L816 346.5 L816.2 349.8 L816.4 353 L816.5 356.2 L816.5 359.5 L816.5 362.8 L816.4 366 L816.2 369.2 L816 372.5 L815.7 375.6 L815.3 378.8 L814.9 381.9 L814.4 385 L813.9 388 L813.3 390.9 L812.7 393.8 L811.9 396.6 L811.2 399.3 L810.4 402 L809.5 404.5 L808.6 406.9 L807.6 409.3 L806.6 411.5 L805.5 413.6 L804.4 415.6 L803.3 417.5 L802.1 419.3 L800.9 420.9 L799.7 422.4 L798.4 423.8 L797.1 425 L795.8 426.1 L794.4 427 L793.1 427.8 L791.7 428.4" fill="none" stroke="#10293f" stroke-width="2.3" stroke-linejoin="round" stroke-linecap="round" />
</g>
<path d="M765.9 288 L765 285.7 L766.1 283.5 L767.2 281.3 L768.3 279.2 L769.5 277.2 L770.7 275.3 L771.9 273.5 L773.1 271.7 L774.4 270.1 L775.7 268.6 L777 267.1 L778.3 265.8 L779.7 264.6 L781.1 263.5 L782.4 262.4 L783.8 261.5 L785.3 260.7 L786.7 260 L788.1 259.5 L789.6 259 L791 258.6 L818 258.7 L818.9 258.7 L819.8 258.8 L820.6 258.8 L821.5 258.9 L822.3 259 L823.2 259.2 L824 259.3 L824.8 259.5 L825.6 259.7 L826.4 260 L827.2 260.3 L828 260.5 L828.8 260.8 L829.6 261.2 L830.4 261.5 L831.2 261.9 L832.1 262.3 L832.9 262.7 L833.7 263.1 L834.5 263.6 L835 263.2 L835.6 262.8 L836.1 262.5 L836.7 262.1 L837.2 261.8 L837.8 261.4 L838.4 261.1 L839 260.8 L839.6 260.5 L840.2 260.2 L840.8 260 L841.4 259.7 L842.1 259.5 L842.8 259.3 L843.4 259.1 L844.1 259 L844.8 258.9 L845.5 258.7 L846.3 258.7 L847 258.6 L862 258.3 L862 259.1 L860.7 259.6 L859.4 260.2 L858.1 260.8 L856.8 261.6 L855.5 262.4 L854.2 263.4 L852.9 264.4 L851.7 265.5 L850.4 266.7 L849.2 268 L848 269.4 L846.8 270.8 L845.7 272.4 L844.5 274 L843.4 275.7 L842.3 277.5 L841.2 279.3 L840.2 281.3 L839.1 283.3 L838.1 285.4 L838.4 286 L821.7 287.1 L816 301 L794 301 L788.4 286.3Z" fill="#3f88de" stroke="#10293f" stroke-width="2.3" stroke-linejoin="round" stroke-linecap="round" />
<path d="M788.4 286.3 L789.3 284.5 L790.2 282.7 L791.1 280.9 L792.2 279.1 L793.2 277.4 L794.3 275.7 L795.5 274.1 L796.7 272.6 L797.9 271 L799.2 269.6 L800.5 268.2 L801.8 266.9 L803.2 265.7 L804.7 264.5 L806.1 263.4 L807.7 262.5 L809.2 261.6 L810.8 260.8 L812.4 260.1 L814 259.5" fill="none" stroke="#10293f" stroke-width="2.3" stroke-linejoin="round" stroke-linecap="round" />
<path d="M821.7 287.1 L822.1 285.7 L822.5 284.4 L822.9 283 L823.4 281.7 L823.9 280.3 L824.4 279 L825 277.7 L825.6 276.5 L826.2 275.2 L826.9 274 L827.6 272.8 L828.3 271.6 L829 270.4 L829.7 269.3 L830.5 268.3 L831.3 267.2 L832.1 266.3 L832.9 265.3 L833.7 264.4 L834.5 263.6" fill="none" stroke="#10293f" stroke-width="2.3" stroke-linejoin="round" stroke-linecap="round" />
<path d="M763.8 426.1 L764.8 428.3 L765.7 430.5 L766.8 432.7 L767.9 434.8 L769 436.8 L770.1 438.9 L771.3 440.8 L772.6 442.7 L773.9 444.6 L775.2 446.4 L776.6 448.1 L778 449.7 L779.5 451.3 L781 452.8 L782.6 454.2 L784.2 455.5 L785.8 456.7 L787.5 457.8 L789.2 458.9 L791 459.8 L792.5 460.2 L794 460.5 L795.6 460.8 L797.1 461.1 L798.6 461.3 L800.2 461.4 L801.8 461.6 L803.3 461.7 L804.9 461.8 L806.4 461.8 L808 461.8 L809.5 461.8 L811.1 461.8 L812.6 461.8 L814.1 461.7 L815.6 461.6 L817.1 461.5 L818.6 461.4 L820.1 461.3 L821.5 461.2 L822.2 461.1 L822.8 461 L823.5 460.8 L824.1 460.7 L824.8 460.5 L825.4 460.3 L826.1 460.1 L826.7 459.9 L827.3 459.7 L827.9 459.4 L828.6 459.2 L829.2 458.9 L829.8 458.6 L830.4 458.2 L831 457.9 L831.6 457.5 L832.2 457.1 L832.8 456.7 L833.4 456.3 L834 455.8 L834.6 456.3 L835.2 456.7 L835.8 457.1 L836.4 457.5 L837 457.9 L837.6 458.2 L838.2 458.5 L838.9 458.8 L839.5 459 L840.1 459.3 L840.8 459.5 L841.4 459.7 L842.1 459.9 L842.7 460 L843.4 460.2 L844.1 460.3 L844.8 460.4 L845.5 460.5 L846.3 460.5 L847 460.6 L862 460.7 L862 459.9 L860.6 459.3 L859.1 458.7 L857.7 458 L856.3 457.1 L854.9 456.2 L853.5 455.1 L852.1 453.9 L850.7 452.6 L849.4 451.2 L848.1 449.7 L846.8 448.1 L845.5 446.4 L844.3 444.6 L843 442.8 L841.9 440.8 L840.7 438.7 L839.6 436.5 L838.5 434.3 L837.4 432 L836.4 429.5 L837.5 427 L820 427.9 L815 414 L792 414 L786.6 427Z" fill="#0e62c4" stroke="#10293f" stroke-width="2.3" stroke-linejoin="round" stroke-linecap="round" />
<path d="M786.6 427 L787.2 429 L787.8 430.9 L788.5 432.9 L789.3 435 L790.2 437 L791.1 439 L792.2 440.9 L793.3 442.9 L794.4 444.8 L795.7 446.7 L797 448.5 L798.4 450.3 L799.9 452 L801.4 453.6 L803 455.2 L804.7 456.7 L806.4 458 L808.2 459.3 L810.1 460.5 L812 461.5" fill="none" stroke="#10293f" stroke-width="2.3" stroke-linejoin="round" stroke-linecap="round" />
<path d="M820 427.9 L820.3 429.4 L820.7 431 L821.1 432.5 L821.6 434 L822 435.6 L822.6 437.1 L823.2 438.6 L823.8 440.1 L824.4 441.6 L825.1 443.1 L825.9 444.5 L826.6 446 L827.4 447.3 L828.3 448.7 L829.1 450 L830 451.3 L831 452.5 L832 453.6 L833 454.7 L834 455.8" fill="none" stroke="#10293f" stroke-width="2.3" stroke-linejoin="round" stroke-linecap="round" />
<path d="M838.4 286 L838.1 285.4 L839.9 281.9 L841.7 278.6 L843.5 275.5 L845.4 272.7 L847.4 270.1 L849.5 267.7 L851.6 265.6 L853.7 263.7 L855.9 262.1 L858.1 260.8 L860.3 259.8 L862.6 259 L864.9 258.5 L867.2 258.2 L869.5 258.3 L871.7 258.6 L874 259.2 L876.3 260 L878.5 261.2 L880.7 262.6 L882.9 264.2 L885 266.1 L887.1 268.3 L889.1 270.8 L891.1 273.4 L893 276.3 L894.8 279.5 L896.6 282.8 L898.3 286.4 L899.9 290.1 L901.4 294.1 L902.9 298.2 L904.2 302.5 L905.4 306.9 L906.6 311.5 L907.6 316.2 L908.5 321.1 L909.3 326 L910 331.1 L910.6 336.2 L911.1 341.4 L911.4 346.6 L911.7 351.8 L911.8 357.1 L911.8 362.4 L911.7 367.7 L911.4 373 L911 378.2 L910.6 383.3 L910 388.4 L909.3 393.5 L908.4 398.4 L907.5 403.2 L906.5 407.9 L905.3 412.5 L904.1 417 L902.7 421.2 L901.3 425.3 L899.8 429.3 L898.1 433 L896.4 436.5 L894.7 439.9 L892.8 443 L890.9 445.9 L888.9 448.5 L886.9 450.9 L884.8 453.1 L882.7 455 L880.5 456.6 L878.3 458 L876 459.1 L873.8 459.9 L871.5 460.5 L869.2 460.8 L866.9 460.8 L864.7 460.5 L862.4 460 L860.1 459.1 L857.9 458.1 L855.7 456.7 L853.5 455.1 L851.4 453.2 L849.3 451.1 L847.2 448.7 L845.2 446.1 L843.3 443.2 L841.5 440.1 L839.7 436.8 L838 433.3 L836.4 429.5 L837.5 427 L841.7 413.8 L840.6 416 L842 419.1 L843.4 422.1 L844.8 424.9 L846.4 427.5 L847.9 430 L849.6 432.3 L851.3 434.3 L853 436.2 L854.8 437.8 L856.6 439.3 L858.4 440.5 L860.3 441.5 L862.2 442.3 L864.1 442.9 L866 443.3 L867.9 443.4 L869.8 443.3 L871.7 443 L873.6 442.4 L875.5 441.7 L877.4 440.7 L879.2 439.5 L881 438 L882.8 436.4 L884.5 434.6 L886.2 432.5 L887.9 430.3 L889.4 427.9 L891 425.3 L892.5 422.5 L893.9 419.5 L895.2 416.4 L896.5 413.1 L897.6 409.7 L898.7 406.2 L899.8 402.5 L900.7 398.7 L901.6 394.8 L902.3 390.8 L903 386.7 L903.6 382.6 L904 378.4 L904.4 374.1 L904.7 369.8 L904.9 365.5 L905 361.2 L905 356.8 L904.9 352.5 L904.7 348.2 L904.4 343.9 L903.9 339.6 L903.4 335.4 L902.8 331.3 L902.2 327.2 L901.4 323.3 L900.5 319.4 L899.5 315.6 L898.5 312 L897.4 308.5 L896.2 305.1 L894.9 301.9 L893.5 298.8 L892.1 295.9 L890.6 293.1 L889.1 290.6 L887.5 288.2 L885.8 286 L884.1 284 L882.4 282.2 L880.6 280.6 L878.8 279.2 L876.9 278.1 L875.1 277.1 L873.2 276.4 L871.3 275.9 L869.4 275.7 L867.4 275.6 L865.5 275.8 L863.6 276.2 L861.7 276.8 L859.8 277.7 L858 278.7 L856.1 280 L854.3 281.5 L852.6 283.2 L850.9 285.1 L849.2 287.3 L847.6 289.6 L846 292.1 L844.5 294.7 L844.4 294.5Z" fill="#c6d8ec" stroke="#10293f" stroke-width="2.3" stroke-linejoin="round" stroke-linecap="round" />
<path d="M765.9 288 L788.4 286.3 L789.1 287.4 L789.8 288.5 L790.6 289.5 L791.3 290.4 L792.1 291.3 L792.9 292.2 L793.7 292.9 L794.6 293.6 L795.4 294.3 L796.3 294.9 L797.2 295.4 L798.1 295.9 L799 296.3 L799.9 296.7 L800.9 297 L801.9 297.3 L802.9 297.4 L803.9 297.6 L804.9 297.7 L805.9 297.7 L806.9 297.7 L808 297.6 L809 297.4 L809.9 297.2 L810.8 296.9 L811.7 296.5 L812.6 296.1 L813.5 295.7 L814.3 295.2 L815.1 294.6 L815.8 294 L816.6 293.4 L817.3 292.7 L818 292 L818.7 291.2 L819.3 290.5 L819.9 289.7 L820.6 288.8 L821.1 288 L821.7 287.1 L838.4 286 L844.3 295 L844.3 295.9 L844.3 296.8 L844.3 297.6 L844.2 298.5 L844.1 299.3 L844 300.1 L843.9 300.9 L843.7 301.6 L843.5 302.3 L843.2 303 L843 303.7 L842.7 304.3 L842.3 304.9 L841.9 305.5 L841.5 306.1 L841.1 306.6 L840.6 307 L840.1 307.5 L839.6 307.8 L839 308.2 L778.5 308.8 L777.8 308.7 L777.2 308.7 L776.6 308.6 L776.1 308.4 L775.6 308.3 L775.1 308.1 L774.6 307.9 L774.2 307.7 L773.8 307.4 L773.4 307.2 L773.1 306.9 L772.8 306.6 L772.5 306.3 L772.2 305.9 L772 305.6 L771.7 305.2 L771.5 304.8 L771.3 304.4 L771.2 303.9 L771 303.5Z" fill="#c6d8ec" stroke="#10293f" stroke-width="2.3" stroke-linejoin="round" stroke-linecap="round" />
<path d="M763.8 426.1 L771.5 409.5 L771.7 409.1 L771.8 408.6 L772 408.3 L772.2 407.9 L772.4 407.5 L772.6 407.2 L772.8 406.9 L773 406.7 L773.3 406.4 L773.6 406.2 L773.9 406 L774.2 405.8 L774.5 405.6 L774.8 405.5 L775.2 405.4 L775.6 405.3 L776.1 405.2 L776.5 405.1 L777 405.1 L777.5 405.1 L836 405.1 L836.5 405.1 L837 405.2 L837.5 405.4 L837.9 405.5 L838.3 405.7 L838.7 406 L839.1 406.2 L839.5 406.6 L839.8 406.9 L840.1 407.3 L840.4 407.7 L840.7 408.2 L840.9 408.7 L841.1 409.3 L841.3 409.9 L841.5 410.5 L841.7 411.2 L841.8 411.9 L841.9 412.7 L842 413.5 L837.5 427 L820 427.9 L819.4 426.9 L818.8 425.9 L818.1 425 L817.5 424.1 L816.8 423.3 L816.1 422.6 L815.4 421.9 L814.7 421.2 L813.9 420.6 L813.1 420 L812.4 419.5 L811.5 419 L810.7 418.6 L809.9 418.3 L809 418 L808.1 417.7 L807.1 417.5 L806.2 417.4 L805.2 417.3 L804.2 417.3 L803.1 417.3 L802.1 417.4 L801 417.5 L800 417.7 L799 418 L798.1 418.3 L797.1 418.6 L796.2 419 L795.2 419.4 L794.4 419.9 L793.5 420.4 L792.6 421 L791.8 421.6 L791 422.3 L790.2 423 L789.4 423.7 L788.7 424.5 L788 425.3 L787.3 426.1 L786.6 427Z" fill="#c6d8ec" stroke="#10293f" stroke-width="2.3" stroke-linejoin="round" stroke-linecap="round" />
</g>
<g>
<clipPath id="bc1"><circle cx="573" cy="259" r="21.1"/></clipPath>
<circle cx="573" cy="259" r="21.1" fill="#939a9c"/>
<circle cx="570.4" cy="252.2" r="19.6" fill="#c6cacb" clip-path="url(#bc1)"/>
<circle cx="571.5" cy="252" r="4.5" fill="#fff"/>
<circle cx="573" cy="259" r="21.1" fill="none" stroke="#10293f" stroke-width="2.3"/>
<clipPath id="bc2"><circle cx="544.4" cy="253.3" r="21.1"/></clipPath>
<circle cx="544.4" cy="253.3" r="21.1" fill="#939a9c"/>
<circle cx="541.8" cy="246.5" r="19.6" fill="#c6cacb" clip-path="url(#bc2)"/>
<circle cx="542.9" cy="246.3" r="4.5" fill="#fff"/>
<circle cx="544.4" cy="253.3" r="21.1" fill="none" stroke="#10293f" stroke-width="2.3"/>
<clipPath id="bc3"><circle cx="516.5" cy="278" r="21.1"/></clipPath>
<circle cx="516.5" cy="278" r="21.1" fill="#939a9c"/>
<circle cx="513.9" cy="271.2" r="19.6" fill="#c6cacb" clip-path="url(#bc3)"/>
<circle cx="515" cy="271" r="4.5" fill="#fff"/>
<circle cx="516.5" cy="278" r="21.1" fill="none" stroke="#10293f" stroke-width="2.3"/>
<clipPath id="bc4"><circle cx="591.9" cy="291.9" r="21.1"/></clipPath>
<circle cx="591.9" cy="291.9" r="21.1" fill="#939a9c"/>
<circle cx="589.3" cy="285.1" r="19.6" fill="#c6cacb" clip-path="url(#bc4)"/>
<circle cx="590.4" cy="284.9" r="4.5" fill="#fff"/>
<circle cx="591.9" cy="291.9" r="21.1" fill="none" stroke="#10293f" stroke-width="2.3"/>
<clipPath id="bc5"><circle cx="606.7" cy="339.9" r="21.1"/></clipPath>
<circle cx="606.7" cy="339.9" r="21.1" fill="#939a9c"/>
<circle cx="604.1" cy="333.1" r="19.6" fill="#c6cacb" clip-path="url(#bc5)"/>
<circle cx="605.2" cy="332.9" r="4.5" fill="#fff"/>
<circle cx="606.7" cy="339.9" r="21.1" fill="none" stroke="#10293f" stroke-width="2.3"/>
<clipPath id="bc6"><circle cx="605.2" cy="393" r="21.1"/></clipPath>
<circle cx="605.2" cy="393" r="21.1" fill="#939a9c"/>
<circle cx="602.6" cy="386.2" r="19.6" fill="#c6cacb" clip-path="url(#bc6)"/>
<circle cx="603.7" cy="386" r="4.5" fill="#fff"/>
<circle cx="605.2" cy="393" r="21.1" fill="none" stroke="#10293f" stroke-width="2.3"/>
<clipPath id="bc7"><circle cx="588.5" cy="441.7" r="21.1"/></clipPath>
<circle cx="588.5" cy="441.7" r="21.1" fill="#939a9c"/>
<circle cx="585.9" cy="434.9" r="19.6" fill="#c6cacb" clip-path="url(#bc7)"/>
<circle cx="587" cy="434.7" r="4.5" fill="#fff"/>
<circle cx="588.5" cy="441.7" r="21.1" fill="none" stroke="#10293f" stroke-width="2.3"/>
<clipPath id="bc8"><circle cx="563" cy="468.9" r="21.1"/></clipPath>
<circle cx="563" cy="468.9" r="21.1" fill="#939a9c"/>
<circle cx="560.4" cy="462.1" r="19.6" fill="#c6cacb" clip-path="url(#bc8)"/>
<circle cx="561.5" cy="461.9" r="4.5" fill="#fff"/>
<circle cx="563" cy="468.9" r="21.1" fill="none" stroke="#10293f" stroke-width="2.3"/>
<clipPath id="bc9"><circle cx="533.9" cy="463.3" r="21.1"/></clipPath>
<circle cx="533.9" cy="463.3" r="21.1" fill="#939a9c"/>
<circle cx="531.3" cy="456.5" r="19.6" fill="#c6cacb" clip-path="url(#bc9)"/>
<circle cx="532.4" cy="456.3" r="4.5" fill="#fff"/>
<circle cx="533.9" cy="463.3" r="21.1" fill="none" stroke="#10293f" stroke-width="2.3"/>
<clipPath id="bc10"><circle cx="512.6" cy="429.8" r="21.1"/></clipPath>
<circle cx="512.6" cy="429.8" r="21.1" fill="#939a9c"/>
<circle cx="510" cy="423" r="19.6" fill="#c6cacb" clip-path="url(#bc10)"/>
<circle cx="511.1" cy="422.8" r="4.5" fill="#fff"/>
<circle cx="512.6" cy="429.8" r="21.1" fill="none" stroke="#10293f" stroke-width="2.3"/>
</g>
<g>
<clipPath id="ab"><path d="M106.1 312.3 L107.5 309.8 L108.9 307.4 L110.4 305.2 L111.9 303.2 L113.5 301.4 L115.2 299.8 L116.8 298.5 L118.5 297.4 L120.2 296.5 L122 295.8 L123.8 295.4 L125.5 295.2 L127.3 295.3 L129.1 295.6 L130.8 296.1 L132.6 296.8 L134.3 297.8 L136 299.1 L137.6 300.5 L139.2 302.2 L140.8 304.1 L142.3 306.2 L143.8 308.4 L145.1 310.9 L146.5 313.6 L147.7 316.4 L148.9 319.4 L150 322.6 L151 325.9 L152 329.3 L152.8 332.8 L153.6 336.5 L154.2 340.2 L154.8 344.1 L155.2 348 L155.6 351.9 L155.8 355.9 L156 359.9 L156 364 L155.9 368 L155.8 372 L155.5 376 L155.1 379.9 L154.6 383.8 L154.1 387.6 L153.4 391.3 L152.6 395 L151.8 398.5 L150.8 401.9 L149.8 405.1 L148.7 408.3 L147.5 411.2 L146.2 414 L144.8 416.6 L143.4 419.1 L142 421.3 L140.4 423.4 L138.9 425.2 L137.2 426.8 L135.6 428.2 L133.9 429.4 L132.2 430.3 L130.4 431.1 L128.7 431.5 L126.9 431.8 L125.1 431.8 L123.4 431.5 L121.6 431.1 L119.9 430.4 L118.1 429.4 L116.4 428.2 L114.8 426.8 L113.2 425.2 L111.6 423.4 L110.1 421.4 L108.6 419.1 L107.2 416.7 L105.8 414.1 L104.6 411.3 L103.4 408.3 L70 411 L76.8 412.8 L77.3 411.5 L77.9 410.1 L78.5 408.8 L79 407.3 L79.5 405.9 L80 404.4 L80.5 402.9 L81 401.4 L81.4 399.8 L81.8 398.2 L82.3 396.6 L82.6 394.9 L83 393.2 L83.4 391.5 L83.7 389.8 L84 388.1 L84.3 386.3 L84.5 384.6 L84.8 382.8 L85 381 L85.2 379.2 L85.4 377.3 L85.5 375.5 L85.7 373.6 L85.8 371.8 L85.9 369.9 L85.9 368.1 L86 366.2 L86 364.3 L86 362.5 L86 360.6 L85.9 358.7 L85.9 356.9 L85.8 355 L85.7 353.1 L85.5 351.3 L85.4 349.5 L85.2 347.6 L85 345.8 L84.8 344 L84.5 342.2 L84.2 340.5 L84 338.7 L83.6 337 L83.3 335.3 L83 333.6 L82.6 331.9 L82.2 330.3 L81.8 328.6 L81.4 327 L80.9 325.5 L80.5 323.9 L80 322.4 L79.5 320.9 L78.9 319.5 L78.4 318.1 L77.9 316.7 L77.3 315.4 L76.7 314 L76.1 312.8 L70 313Z"/></clipPath>
<g clip-path="url(#ab)">
<rect x="40" y="280" width="130" height="72" fill="#0e62c4"/>
<rect x="40" y="351.5" width="130" height="99" fill="#3f88de"/>
<path d="M76.1 312.8 L76.7 314 L77.3 315.4 L77.9 316.7 L78.4 318.1 L78.9 319.5 L79.5 320.9 L80 322.4 L80.5 323.9 L80.9 325.5 L81.4 327 L81.8 328.6 L82.2 330.3 L82.6 331.9 L83 333.6 L83.3 335.3 L83.6 337 L84 338.7 L84.2 340.5 L84.5 342.2 L84.8 344 L85 345.8 L85.2 347.6 L85.4 349.5 L85.5 351.3 L85.7 353.1 L85.8 355 L85.9 356.9 L85.9 358.7 L86 360.6 L86 362.5 L86 364.3 L86 366.2 L85.9 368.1 L85.9 369.9 L85.8 371.8 L85.7 373.6 L85.5 375.5 L85.4 377.3 L85.2 379.2 L85 381 L84.8 382.8 L84.5 384.6 L84.3 386.3 L84 388.1 L83.7 389.8 L83.4 391.5 L83 393.2 L82.6 394.9 L82.3 396.6 L81.8 398.2 L81.4 399.8 L81 401.4 L80.5 402.9 L80 404.4 L79.5 405.9 L79 407.3 L78.5 408.8 L77.9 410.1 L77.3 411.5 L76.8 412.8" fill="none" stroke="#10293f" stroke-width="2.3" stroke-linejoin="round" stroke-linecap="round" />
</g>
<path d="M18.8 249.4 L19.2 250.4 L20.5 247.8 L21.9 245.2 L23.3 242.7 L24.8 240.3 L26.3 238 L27.8 235.8 L29.3 233.7 L30.9 231.7 L32.4 229.8 L34 228 L35.7 226.3 L37.3 224.7 L38.9 223.3 L40.6 221.9 L42.3 220.6 L44 219.5 L45.7 218.4 L47.5 217.5 L49.2 216.7 L50.9 216 L52.7 215.4 L54.5 214.9 L56.2 214.5 L58 214.3 L117 214.1 L115 216 L112.9 218 L110.9 220 L109 222 L107.1 224 L105.2 226.1 L103.3 228.2 L101.5 230.3 L99.7 232.5 L97.9 234.6 L96.2 236.8 L94.4 239.1 L92.8 241.3 L91.1 243.6 L89.5 245.9 L87.9 248.2Z" fill="#3f88de" stroke="#10293f" stroke-width="2.3" stroke-linejoin="round" stroke-linecap="round" />
<path d="M13.8 468.2 L14.6 466.4 L16 469.8 L17.5 473.1 L19 476.3 L20.6 479.3 L22.2 482.3 L23.8 485.1 L25.5 487.8 L27.2 490.4 L29 492.8 L30.7 495.1 L32.5 497.3 L34.4 499.4 L36.3 501.3 L38.1 503 L40.1 504.7 L42 506.2 L43.9 507.5 L45.9 508.7 L47.9 509.7 L49.9 510.6 L51.9 511.4 L53.9 512 L56 512.4 L58 512.7 L120 512.9 L117.2 510.5 L114.4 508.1 L111.7 505.6 L109.1 503 L106.5 500.5 L104 497.8 L101.6 495.1 L99.2 492.4 L96.9 489.6 L94.7 486.7 L92.6 483.8 L90.5 480.9 L88.5 477.9 L86.6 474.8 L84.7 471.7 L82.9 468.6Z" fill="#0e62c4" stroke="#10293f" stroke-width="2.3" stroke-linejoin="round" stroke-linecap="round" />
<path d="M87.9 248.2 L89.5 245.9 L91.1 243.6 L92.8 241.3 L94.4 239.1 L96.2 236.8 L97.9 234.6 L99.7 232.5 L101.5 230.3 L103.3 228.2 L105.2 226.1 L107.1 224 L109 222 L110.9 220 L112.9 218 L115 216 L117 214.1 L131 214.1 L133.5 214.2 L136 214.6 L138.5 215.1 L141 215.9 L143.5 217 L145.9 218.2 L148.4 219.7 L150.8 221.4 L153.2 223.3 L155.5 225.5 L157.8 227.8 L160.1 230.4 L162.3 233.1 L164.4 236.1 L166.6 239.3 L168.6 242.6 L170.6 246.2 L172.6 249.9 L174.4 253.8 L176.3 257.9 L178 262.1 L179.7 266.5 L181.3 271 L182.8 275.7 L184.2 280.5 L185.6 285.4 L186.8 290.5 L188 295.7 L189.1 301 L190.1 306.3 L191 311.8 L191.9 317.3 L192.6 322.9 L193.2 328.6 L193.8 334.4 L194.2 340.1 L194.6 345.9 L194.8 351.8 L195 357.6 L195 363.5 L195 369.4 L194.8 375.2 L194.6 381.1 L194.2 386.9 L193.8 392.6 L193.2 398.4 L192.6 404.1 L191.9 409.7 L191 415.2 L190.1 420.7 L189.1 426 L188 431.3 L186.8 436.5 L185.6 441.6 L184.2 446.5 L182.8 451.3 L181.3 456 L179.7 460.5 L178 464.9 L176.3 469.1 L174.4 473.2 L172.6 477.1 L170.6 480.8 L168.6 484.4 L166.6 487.7 L164.4 490.9 L162.3 493.9 L160.1 496.6 L157.8 499.2 L155.5 501.5 L153.2 503.7 L150.8 505.6 L148.4 507.3 L145.9 508.8 L143.5 510 L141 511.1 L138.5 511.9 L136 512.4 L133.5 512.8 L131 512.9 L120 512.9 L117.2 510.5 L114.4 508.1 L111.7 505.6 L109.1 503 L106.5 500.5 L104 497.8 L101.6 495.1 L99.2 492.4 L96.9 489.6 L94.7 486.7 L92.6 483.8 L90.5 480.9 L88.5 477.9 L86.6 474.8 L84.7 471.7 L82.9 468.6 L87.6 455.6 L89 452.4 L91.3 457.5 L93.6 462.2 L96.1 466.6 L98.7 470.7 L101.4 474.5 L104.2 477.8 L107.1 480.8 L110 483.4 L113 485.6 L116.1 487.4 L119.1 488.8 L122.3 489.8 L125.4 490.4 L128.5 490.5 L131.7 490.2 L134.8 489.5 L137.9 488.4 L141 486.9 L144 484.9 L147 482.6 L149.9 479.9 L152.7 476.8 L155.5 473.3 L158.1 469.4 L160.7 465.2 L163.2 460.7 L165.5 455.8 L167.7 450.6 L169.8 445.2 L171.8 439.5 L173.6 433.5 L175.2 427.3 L176.7 420.9 L178 414.3 L179.2 407.5 L180.2 400.6 L181.1 393.5 L181.7 386.4 L182.2 379.2 L182.5 371.9 L182.6 364.6 L182.5 357.3 L182.3 350 L181.9 342.8 L181.3 335.6 L180.5 328.6 L179.5 321.6 L178.4 314.8 L177.1 308.1 L175.7 301.6 L174.1 295.4 L172.3 289.3 L170.4 283.5 L168.4 278 L166.2 272.7 L163.9 267.8 L161.5 263.1 L158.9 258.8 L156.3 254.9 L153.6 251.3 L150.7 248 L147.8 245.2 L144.9 242.7 L141.9 240.7 L138.8 239 L135.7 237.8 L132.6 237 L129.5 236.5 L126.3 236.6 L123.2 237 L120.1 237.8 L117 239.1 L113.9 240.8 L110.9 242.9 L108 245.3 L105.1 248.2 L102.3 251.5 L99.6 255.1 L96.9 259.1 L94.4 263.4 L94.6 264Z" fill="#c6d8ec" stroke="#10293f" stroke-width="2.3" stroke-linejoin="round" stroke-linecap="round" />
<path d="M94.6 264 L94.4 263.4 L96.9 259.1 L99.6 255.1 L102.3 251.5 L105.1 248.2 L108 245.3 L110.9 242.9 L113.9 240.8 L117 239.1 L120.1 237.8 L123.2 237 L126.3 236.6 L129.5 236.5 L132.6 237 L135.7 237.8 L138.8 239 L141.9 240.7 L144.9 242.7 L147.8 245.2 L150.7 248 L153.6 251.3 L156.3 254.9 L158.9 258.8 L161.5 263.1 L163.9 267.8 L166.2 272.7 L168.4 278 L170.4 283.5 L172.3 289.3 L174.1 295.4 L175.7 301.6 L177.1 308.1 L178.4 314.8 L179.5 321.6 L180.5 328.6 L181.3 335.6 L181.9 342.8 L182.3 350 L182.5 357.3 L182.6 364.6 L182.5 371.9 L182.2 379.2 L181.7 386.4 L181.1 393.5 L180.2 400.6 L179.2 407.5 L178 414.3 L176.7 420.9 L175.2 427.3 L173.6 433.5 L171.8 439.5 L169.8 445.2 L167.7 450.6 L165.5 455.8 L163.2 460.7 L160.7 465.2 L158.1 469.4 L155.5 473.3 L152.7 476.8 L149.9 479.9 L147 482.6 L144 484.9 L141 486.9 L137.9 488.4 L134.8 489.5 L131.7 490.2 L128.5 490.5 L125.4 490.4 L122.3 489.8 L119.1 488.8 L116.1 487.4 L113 485.6 L110 483.4 L107.1 480.8 L104.2 477.8 L101.4 474.5 L98.7 470.7 L96.1 466.6 L93.6 462.2 L91.3 457.5 L89 452.4 L87.6 455.6 L94.3 434.8 L95.2 432.8 L97 436.9 L98.9 440.8 L100.9 444.4 L103 447.7 L105.1 450.8 L107.4 453.5 L109.7 455.9 L112 458 L114.5 459.8 L116.9 461.3 L119.4 462.4 L121.9 463.2 L124.4 463.7 L126.9 463.8 L129.5 463.6 L132 463 L134.5 462.1 L137 460.8 L139.4 459.2 L141.8 457.3 L144.1 455.1 L146.4 452.6 L148.6 449.7 L150.8 446.6 L152.8 443.2 L154.8 439.5 L156.6 435.5 L158.4 431.3 L160.1 426.9 L161.6 422.2 L163 417.4 L164.3 412.4 L165.5 407.2 L166.5 401.8 L167.4 396.3 L168.2 390.7 L168.8 385.1 L169.3 379.3 L169.6 373.5 L169.8 367.6 L169.8 361.8 L169.7 355.9 L169.4 350.1 L169 344.3 L168.4 338.6 L167.7 333 L166.9 327.4 L165.9 322 L164.8 316.8 L163.6 311.7 L162.2 306.7 L160.7 302 L159.1 297.5 L157.4 293.2 L155.6 289.1 L153.6 285.3 L151.6 281.8 L149.5 278.5 L147.3 275.6 L145.1 272.9 L142.8 270.5 L140.4 268.5 L138 266.8 L135.5 265.4 L133 264.3 L130.5 263.6 L128 263.3 L125.5 263.2 L122.9 263.5 L120.4 264.2 L117.9 265.2 L115.5 266.5 L113 268.2 L110.6 270.2 L108.3 272.5 L106.1 275.1 L103.9 278 L101.7 281.2 L99.7 284.7 L97.8 288.5 L97.6 288Z" fill="#e9843c" stroke="#10293f" stroke-width="2.3" stroke-linejoin="round" stroke-linecap="round" />
<path d="M97.6 288 L97.8 288.5 L99.7 284.7 L101.7 281.2 L103.9 278 L106.1 275.1 L108.3 272.5 L110.6 270.2 L113 268.2 L115.5 266.5 L117.9 265.2 L120.4 264.2 L122.9 263.5 L125.5 263.2 L128 263.3 L130.5 263.6 L133 264.3 L135.5 265.4 L138 266.8 L140.4 268.5 L142.8 270.5 L145.1 272.9 L147.3 275.6 L149.5 278.5 L151.6 281.8 L153.6 285.3 L155.6 289.1 L157.4 293.2 L159.1 297.5 L160.7 302 L162.2 306.7 L163.6 311.7 L164.8 316.8 L165.9 322 L166.9 327.4 L167.7 333 L168.4 338.6 L169 344.3 L169.4 350.1 L169.7 355.9 L169.8 361.8 L169.8 367.6 L169.6 373.5 L169.3 379.3 L168.8 385.1 L168.2 390.7 L167.4 396.3 L166.5 401.8 L165.5 407.2 L164.3 412.4 L163 417.4 L161.6 422.2 L160.1 426.9 L158.4 431.3 L156.6 435.5 L154.8 439.5 L152.8 443.2 L150.8 446.6 L148.6 449.7 L146.4 452.6 L144.1 455.1 L141.8 457.3 L139.4 459.2 L137 460.8 L134.5 462.1 L132 463 L129.5 463.6 L126.9 463.8 L124.4 463.7 L121.9 463.2 L119.4 462.4 L116.9 461.3 L114.5 459.8 L112 458 L109.7 455.9 L107.4 453.5 L105.1 450.8 L103 447.7 L100.9 444.4 L98.9 440.8 L97 436.9 L95.2 432.8 L94.3 434.8 L96.6 429.3 L98.7 424.6 L100.3 428.3 L102 431.7 L103.8 434.9 L105.6 437.9 L107.5 440.6 L109.5 443.1 L111.6 445.3 L113.7 447.2 L115.8 448.8 L118 450.1 L120.2 451.2 L122.4 451.9 L124.6 452.4 L126.9 452.5 L129.1 452.3 L131.4 451.9 L133.6 451.1 L135.8 450 L138 448.7 L140.1 447 L142.2 445.1 L144.2 442.9 L146.2 440.4 L148.1 437.7 L150 434.7 L151.7 431.5 L153.4 428 L155 424.3 L156.5 420.4 L157.9 416.3 L159.1 412.1 L160.3 407.7 L161.4 403.1 L162.3 398.4 L163.1 393.5 L163.8 388.6 L164.4 383.6 L164.8 378.5 L165.2 373.4 L165.3 368.2 L165.4 363 L165.3 357.8 L165.1 352.7 L164.8 347.5 L164.3 342.5 L163.7 337.5 L163 332.5 L162.1 327.7 L161.2 323 L160.1 318.5 L158.9 314.1 L157.6 309.9 L156.2 305.8 L154.7 302 L153.1 298.3 L151.4 294.9 L149.6 291.7 L147.8 288.8 L145.8 286.1 L143.9 283.7 L141.8 281.5 L139.7 279.6 L137.6 278 L135.4 276.7 L133.2 275.7 L131 275 L128.7 274.6 L126.5 274.5 L124.2 274.7 L122 275.2 L119.8 276 L117.6 277.1 L115.4 278.5 L113.3 280.2 L111.2 282.1 L109.1 284.3 L107.2 286.9 L105.3 289.6 L103.4 292.6 L101.7 295.9 L101.4 295.1Z" fill="#156ad0" stroke="#10293f" stroke-width="2.3" stroke-linejoin="round" stroke-linecap="round" />
<path d="M102.7 294 L103.7 292.2 L104.8 290.4 L105.9 288.7 L107 287.1 L108.1 285.6 L109.3 284.2 L110.5 282.9 L111.7 281.6 L112.9 280.5 L114.1 279.4 L115.4 278.5 L116.6 277.7 L117.9 276.9 L119.2 276.3 L120.5 275.7 L121.8 275.3 L123.1 274.9 L124.4 274.7 L125.7 274.5 L127 274.5 L128 271.5 L126.2 271.8 L124.5 272.1 L122.9 272.5 L121.3 272.9 L119.7 273.5 L118.2 274 L116.7 274.7 L115.3 275.4 L114 276.2 L112.6 277 L111.3 277.9 L110.1 278.8 L108.8 279.9 L107.7 280.9 L106.5 282 L105.3 283.2 L104.2 284.5 L103.1 285.8 L102.1 287.1 L101 288.5Z" fill="#3f88de" stroke="none" stroke-width="0" stroke-linejoin="round" stroke-linecap="round" />
<path d="M136 272.8 L135.1 272.3 L134.2 271.9 L133.3 271.5 L132.4 271.1 L131.5 270.8 L130.6 270.5 L129.7 270.2 L128.8 270 L127.9 269.8 L127 269.6 L126.1 269.5 L125.2 269.4 L124.3 269.3 L123.4 269.3 L122.5 269.3 L121.6 269.4 L120.7 269.5 L119.8 269.6 L118.9 269.8 L118 270" fill="none" stroke="#10293f" stroke-width="0.9" stroke-linejoin="round" stroke-linecap="round" />
<path d="M118 441 L119.5 442.1 L121.1 443.1 L122.6 443.9 L124.2 444.5 L125.8 444.9 L127.4 445.2 L129.1 445.4 L130.7 445.3 L132.4 445.1 L134 444.8 L135.6 444.2 L137.3 443.5 L138.9 442.7 L140.6 441.6 L142.2 440.4 L143.8 439.1 L145.4 437.6 L146.9 435.9 L148.5 434 L150 432 L148.6 433.6 L147.2 435.1 L145.8 436.4 L144.3 437.6 L142.8 438.7 L141.2 439.7 L139.7 440.5 L138.1 441.2 L136.5 441.8 L134.9 442.2 L133.3 442.5 L131.6 442.6 L130 442.6 L128.4 442.5 L126.8 442.2 L125.2 441.8 L123.6 441.2 L122.1 440.4 L120.5 439.5 L119 438.5Z" fill="#3f88de" stroke="none" stroke-width="0" stroke-linejoin="round" stroke-linecap="round" />
<path d="M101.4 295.1 L101.7 295.9 L103.4 292.6 L105.3 289.6 L107.2 286.9 L109.1 284.3 L111.2 282.1 L113.3 280.2 L115.4 278.5 L117.6 277.1 L119.8 276 L122 275.2 L124.2 274.7 L126.5 274.5 L128.7 274.6 L131 275 L133.2 275.7 L135.4 276.7 L137.6 278 L139.7 279.6 L141.8 281.5 L143.9 283.7 L145.8 286.1 L147.8 288.8 L149.6 291.7 L151.4 294.9 L153.1 298.3 L154.7 302 L156.2 305.8 L157.6 309.9 L158.9 314.1 L160.1 318.5 L161.2 323 L162.1 327.7 L163 332.5 L163.7 337.5 L164.3 342.5 L164.8 347.5 L165.1 352.7 L165.3 357.8 L165.4 363 L165.3 368.2 L165.2 373.4 L164.8 378.5 L164.4 383.6 L163.8 388.6 L163.1 393.5 L162.3 398.4 L161.4 403.1 L160.3 407.7 L159.1 412.1 L157.9 416.3 L156.5 420.4 L155 424.3 L153.4 428 L151.7 431.5 L150 434.7 L148.1 437.7 L146.2 440.4 L144.2 442.9 L142.2 445.1 L140.1 447 L138 448.7 L135.8 450 L133.6 451.1 L131.4 451.9 L129.1 452.3 L126.9 452.5 L124.6 452.4 L122.4 451.9 L120.2 451.2 L118 450.1 L115.8 448.8 L113.7 447.2 L111.6 445.3 L109.5 443.1 L107.5 440.6 L105.6 437.9 L103.8 434.9 L102 431.7 L100.3 428.3 L98.7 424.6 L96.6 429.3 L103.4 409.4 L103.6 409 L104.8 411.9 L106.1 414.6 L107.4 417.1 L108.8 419.5 L110.3 421.7 L111.8 423.7 L113.4 425.4 L115 427 L116.6 428.4 L118.3 429.5 L120 430.4 L121.7 431.1 L123.4 431.5 L125.2 431.8 L126.9 431.8 L128.6 431.5 L130.4 431.1 L132.1 430.4 L133.8 429.5 L135.5 428.3 L137.1 426.9 L138.7 425.4 L140.3 423.6 L141.8 421.6 L143.2 419.4 L144.6 417 L146 414.5 L147.2 411.7 L148.4 408.9 L149.6 405.8 L150.6 402.6 L151.5 399.3 L152.4 395.9 L153.2 392.3 L153.9 388.7 L154.5 384.9 L155 381.1 L155.4 377.2 L155.7 373.3 L155.9 369.4 L156 365.4 L156 361.4 L155.9 357.5 L155.7 353.5 L155.4 349.6 L155 345.8 L154.5 342 L153.9 338.2 L153.2 334.6 L152.4 331 L151.5 327.6 L150.6 324.3 L149.5 321.1 L148.4 318 L147.2 315.2 L145.9 312.4 L144.6 309.9 L143.2 307.5 L141.7 305.3 L140.2 303.4 L138.7 301.6 L137.1 300 L135.4 298.6 L133.7 297.5 L132 296.6 L130.3 295.9 L128.6 295.5 L126.8 295.2 L125.1 295.2 L123.4 295.5 L121.6 295.9 L119.9 296.6 L118.2 297.5 L116.5 298.7 L114.9 300 L113.3 301.6 L111.7 303.4 L110.2 305.4 L108.8 307.6 L107.4 310 L107.6 310.6Z" fill="#c6d8ec" stroke="#10293f" stroke-width="2.3" stroke-linejoin="round" stroke-linecap="round" />
<path d="M107.4 310 L108.8 307.6 L110.2 305.4 L111.7 303.4 L113.3 301.6 L114.9 300 L116.5 298.7 L118.2 297.5 L119.9 296.6 L121.6 295.9 L123.4 295.5 L125.1 295.2 L126.8 295.2 L128.6 295.5 L130.3 295.9 L132 296.6 L133.7 297.5 L135.4 298.6 L137.1 300 L138.7 301.6 L140.2 303.4 L141.7 305.3 L143.2 307.5 L144.6 309.9 L145.9 312.4 L147.2 315.2 L148.4 318 L149.5 321.1 L150.6 324.3 L151.5 327.6 L152.4 331 L153.2 334.6 L153.9 338.2 L154.5 342 L155 345.8 L155.4 349.6 L155.7 353.5 L155.9 357.5 L156 361.4 L156 365.4 L155.9 369.4 L155.7 373.3 L155.4 377.2 L155 381.1 L154.5 384.9 L153.9 388.7 L153.2 392.3 L152.4 395.9 L151.5 399.3 L150.6 402.6 L149.6 405.8 L148.4 408.9 L147.2 411.7 L146 414.5 L144.6 417 L143.2 419.4 L141.8 421.6 L140.3 423.6 L138.7 425.4 L137.1 426.9 L135.5 428.3 L133.8 429.5 L132.1 430.4 L130.4 431.1 L128.6 431.5 L126.9 431.8 L125.2 431.8 L123.4 431.5 L121.7 431.1 L120 430.4 L118.3 429.5 L116.6 428.4 L115 427 L113.4 425.4 L111.8 423.7 L110.3 421.7 L108.8 419.5 L107.4 417.1 L106.1 414.6 L104.8 411.9 L103.6 409" fill="none" stroke="#10293f" stroke-width="2.3" stroke-linejoin="round" stroke-linecap="round" />
<path d="M33 267 L90 266 L97 290 L38 290Z" fill="#10293f" stroke="#10293f" stroke-width="1" stroke-linejoin="round" stroke-linecap="round" />
<path d="M33.5 294.8 L35.5 289.8 L99 289.3 L101.5 295Z" fill="#3f88de" stroke="#10293f" stroke-width="2.3" stroke-linejoin="round" stroke-linecap="round" />
<path d="M40.5 271 L86.5 271 L91.5 286.5 L45 287.5Z" fill="#0e62c4" stroke="#10293f" stroke-width="1.2" stroke-linejoin="round" stroke-linecap="round" />
<path d="M80.3 271.6 L86.2 272 L86.8 275.2 L81.5 275.2Z" fill="#3f88de" stroke="#10293f" stroke-width="1.2" stroke-linejoin="round" stroke-linecap="round" />
<path d="M82 276.3 L87.3 275.7 L90.3 283.4 L83.8 284Z" fill="#e9843c" stroke="#10293f" stroke-width="1.5" stroke-linejoin="round" stroke-linecap="round" />
<path d="M37 272.8 L40.5 272.2 L40 279.5 L38 279.5Z" fill="#e9843c" stroke="#10293f" stroke-width="1.5" stroke-linejoin="round" stroke-linecap="round" />
<path d="M90.5 265.6 L94.8 264 L98.4 288 L96 289Z" fill="#10293f" stroke="#10293f" stroke-width="1" stroke-linejoin="round" stroke-linecap="round" />
<path d="M26.6 266.2 L32.6 266 L39.2 287.4 L33.4 288.4Z" fill="#e9843c" stroke="#10293f" stroke-width="1.8" stroke-linejoin="round" stroke-linecap="round" />
<path d="M84.6 266.4 L91 265.6 L98.2 287.2 L92.4 289Z" fill="#e9843c" stroke="#10293f" stroke-width="1.8" stroke-linejoin="round" stroke-linecap="round" />
<path d="M18.8 250.6 L18.8 250.5 L18.8 250.3 L18.8 250.2 L18.8 250.1 L18.8 250 L18.8 249.9 L18.9 249.8 L18.9 249.7 L19 249.6 L19.1 249.6 L19.2 249.5 L19.3 249.5 L19.4 249.4 L19.5 249.4 L19.7 249.4 L19.8 249.3 L20 249.3 L20.1 249.3 L20.3 249.3 L20.5 249.3 L87.9 248.2 L95.3 263.6 L94.4 265.4 L85.8 266.2 L85 270.8 L35.6 270.8 L33 265.6 L24.5 265.4 L24.2 265.4 L23.9 265.3 L23.7 265.3 L23.4 265.2 L23.2 265.1 L23 265.1 L22.8 265 L22.7 264.9 L22.5 264.8 L22.3 264.6 L22.2 264.5 L22.1 264.3 L21.9 264.2 L21.8 264 L21.7 263.8 L21.6 263.6 L21.5 263.3 L21.5 263.1 L21.4 262.8 L21.3 262.5Z" fill="#c6d8ec" stroke="#10293f" stroke-width="2.3" stroke-linejoin="round" stroke-linecap="round" />
<path d="M34.2 295.2 L101.4 295.1 L107.8 310.6 L105.8 315.2 L46 315.7 L45.6 315.7 L45.1 315.7 L44.7 315.6 L44.4 315.6 L44 315.5 L43.7 315.4 L43.4 315.3 L43.1 315.1 L42.8 315 L42.5 314.8 L42.2 314.6 L42 314.4 L41.8 314.2 L41.6 313.9 L41.4 313.6 L41.2 313.3 L41 313 L40.8 312.7 L40.7 312.4 L40.5 312Z" fill="#c6d8ec" stroke="#10293f" stroke-width="2.3" stroke-linejoin="round" stroke-linecap="round" />
<clipPath id="abc11"><circle cx="60.4" cy="285.3" r="21.8"/></clipPath>
<circle cx="60.4" cy="285.3" r="21.8" fill="#939a9c"/>
<circle cx="57.8" cy="278.5" r="20.3" fill="#c6cacb" clip-path="url(#abc11)"/>
<circle cx="59.7" cy="276" r="4.5" fill="#fff"/>
<circle cx="60.4" cy="285.3" r="21.8" fill="none" stroke="#10293f" stroke-width="2.3"/>
<path d="M33 430 L93 430 L85 453 L27 453Z" fill="#10293f" stroke="#10293f" stroke-width="1" stroke-linejoin="round" stroke-linecap="round" />
<path d="M30 428.5 L96.5 429 L94.5 434 L28 433.5Z" fill="#0e62c4" stroke="#10293f" stroke-width="2.3" stroke-linejoin="round" stroke-linecap="round" />
<path d="M34 434 L88 434.5 L82 449.5 L30.5 449.5Z" fill="#0e62c4" stroke="#10293f" stroke-width="1.2" stroke-linejoin="round" stroke-linecap="round" />
<path d="M78.2 434.2 L85.9 434.8 L84.7 439.8 L78.2 439.3Z" fill="#e9843c" stroke="#10293f" stroke-width="1.5" stroke-linejoin="round" stroke-linecap="round" />
<path d="M77.7 442.2 L82.3 442.2 L81.2 447 L77.1 447Z" fill="#e9843c" stroke="#10293f" stroke-width="1.5" stroke-linejoin="round" stroke-linecap="round" />
<path d="M33.1 440.4 L35.5 447 L30.8 447Z" fill="#e9843c" stroke="#10293f" stroke-width="1.5" stroke-linejoin="round" stroke-linecap="round" />
<path d="M93 434.4 L95 434.8 L88 455.6 L86 455Z" fill="#10293f" stroke="#10293f" stroke-width="1" stroke-linejoin="round" stroke-linecap="round" />
<path d="M27.6 433.8 L34 433.2 L27.6 454 L20.4 454.6Z" fill="#e9843c" stroke="#10293f" stroke-width="1.8" stroke-linejoin="round" stroke-linecap="round" />
<path d="M88.6 433.8 L94 434.6 L86.8 454.6 L80.8 454Z" fill="#e9843c" stroke="#10293f" stroke-width="1.8" stroke-linejoin="round" stroke-linecap="round" />
<path d="M17.9 454.5 L26.7 454.5 L30.2 449.2 L80 449.2 L81.2 453.9 L87 454.5 L89.4 457.4 L82.9 468.6 L15 468.2 L14.7 468.2 L14.5 468.1 L14.3 468.1 L14.1 468 L13.9 467.9 L13.7 467.8 L13.6 467.7 L13.5 467.6 L13.4 467.5 L13.3 467.3 L13.2 467.2 L13.2 467 L13.2 466.9 L13.1 466.7 L13.1 466.5 L13.2 466.3 L13.2 466.1 L13.3 465.9 L13.3 465.7 L13.4 465.5Z" fill="#c6d8ec" stroke="#10293f" stroke-width="2.3" stroke-linejoin="round" stroke-linecap="round" />
<path d="M30.2 428.7 L38.3 411 L38.5 410.7 L38.6 410.5 L38.8 410.3 L38.9 410.1 L39.1 409.9 L39.2 409.7 L39.4 409.6 L39.5 409.4 L39.7 409.3 L39.9 409.2 L40.1 409.1 L40.3 409.1 L40.4 409 L40.6 408.9 L40.8 408.9 L41.1 408.9 L41.3 408.8 L41.5 408.8 L41.8 408.8 L42 408.8 L103.4 409.4 L96.4 429.3Z" fill="#c6d8ec" stroke="#10293f" stroke-width="2.3" stroke-linejoin="round" stroke-linecap="round" />
<clipPath id="abc12"><circle cx="56.3" cy="436.6" r="21.8"/></clipPath>
<circle cx="56.3" cy="436.6" r="21.8" fill="#939a9c"/>
<circle cx="53.7" cy="429.8" r="20.3" fill="#c6cacb" clip-path="url(#abc12)"/>
<circle cx="55.6" cy="428" r="4.5" fill="#fff"/>
<circle cx="56.3" cy="436.6" r="21.8" fill="none" stroke="#10293f" stroke-width="2.3"/>
</g>
<g>
<path d="M697 241 L698.4 241 L699.7 241.1 L701.1 241.3 L702.5 241.5 L703.8 241.7 L705.2 242.1 L706.6 242.4 L707.9 242.9 L709.2 243.3 L710.5 243.9 L711.8 244.5 L713 245.1 L714.2 245.8 L715.3 246.5 L716.4 247.3 L717.4 248.2 L718.4 249.1 L719.4 250 L720.2 251 L721 252 L721.5 252.8 L721.9 253.5 L722.3 254.3 L722.6 255.1 L722.8 255.9 L723 256.7 L723.1 257.5 L723.1 258.3 L723.1 259.1 L723 259.9 L722.9 260.7 L722.7 261.5 L722.4 262.3 L722.1 263.1 L721.7 263.9 L721.3 264.6 L720.8 265.4 L720.2 266.1 L719.6 266.8 L719 267.5 L718 268.2 L717 268.8 L715.9 269.3 L714.6 269.7 L713.3 270.1 L711.9 270.3 L710.5 270.5 L709 270.6 L707.4 270.6 L705.8 270.5 L704.1 270.4 L702.4 270.1 L700.6 269.8 L698.9 269.5 L697.1 269 L695.3 268.6 L693.4 268 L691.6 267.4 L689.8 266.7 L688 266 L690 258Z" fill="#3f88de" stroke="#10293f" stroke-width="2.2" stroke-linejoin="round" stroke-linecap="round" />
<path d="M687.6 266 L697.5 259.6 L698.5 259.7 L699.4 259.8 L700.4 259.9 L701.3 260.1 L702.3 260.3 L703.2 260.5 L704.1 260.8 L705 261.1 L705.9 261.4 L706.8 261.8 L707.6 262.1 L708.4 262.6 L709.3 263 L710.1 263.5 L710.9 264 L711.6 264.5 L712.4 265.1 L713.1 265.7 L713.8 266.3 L714.5 267 L709 270.5 L698 269.5Z" fill="#0e62c4" stroke="#10293f" stroke-width="2.2" stroke-linejoin="round" stroke-linecap="round" />
<path d="M644.8 243 L645 254 L645.8 255 L646.7 256 L647.7 256.9 L648.8 257.8 L650 258.7 L651.3 259.5 L652.6 260.2 L654 260.9 L655.5 261.5 L657.1 262.1 L658.8 262.7 L660.5 263.1 L662.2 263.6 L664.1 263.9 L666 264.3 L667.9 264.5 L669.9 264.7 L671.9 264.9 L673.9 265 L676 265 L677.3 265 L678.6 264.9 L679.9 264.9 L681.2 264.8 L682.4 264.6 L683.5 264.5 L684.7 264.3 L685.8 264.1 L686.9 263.8 L687.9 263.6 L688.9 263.3 L689.9 262.9 L690.8 262.6 L691.7 262.2 L692.5 261.8 L693.4 261.4 L694.1 261 L694.9 260.5 L695.5 260 L696.2 259.5 L696.2 243Z" fill="#3f88de" stroke="#10293f" stroke-width="2.2" stroke-linejoin="round" stroke-linecap="round" />
<ellipse cx="670.5" cy="243" rx="25.7" ry="6.6" fill="#4590e6" stroke="#10293f" stroke-width="2.2"/>
<path d="M629 286.8 L625.5 285.5 L624.9 284.5 L624.3 283.5 L623.9 282.5 L623.5 281.4 L623.2 280.4 L623 279.3 L622.9 278.3 L622.9 277.2 L622.9 276.1 L623 275.1 L623.2 274 L623.4 272.9 L623.8 271.9 L624.2 270.8 L624.7 269.8 L625.2 268.8 L625.8 267.8 L626.5 266.9 L627.2 265.9 L628 265 L628.9 264 L629.9 263.1 L630.9 262.3 L631.9 261.5 L633 260.7 L634.2 260 L635.3 259.4 L636.6 258.7 L637.8 258.2 L639.1 257.6 L640.4 257.1 L641.8 256.7 L643.1 256.3 L644.6 255.9 L646 255.6 L647.5 255.3 L649 255.1 L650.5 254.9 L652.1 254.7 L653.7 254.6 L654.8 254.6 L655.9 254.6 L656.9 254.7 L658 254.9 L659 255.1 L660 255.3 L661 255.7 L661.9 256.1 L662.9 256.5 L663.8 257 L664.7 257.6 L665.5 258.2 L666.3 258.9 L667.1 259.6 L667.8 260.4 L668.6 261.2 L669.2 262.1 L669.9 263 L670.5 264 L671 265 L671.4 265.9 L671.7 266.9 L672 267.8 L672.3 268.8 L672.5 269.8 L672.7 270.8 L672.9 271.9 L673.1 272.9 L673.3 274 L673.4 275 L673.5 276 L673.6 277.1 L673.7 278.1 L673.8 279.2 L673.8 280.2 L673.8 281.2 L673.8 282.2 L673.8 283.1 L673.8 284.1 L673.8 285 L673 287.6 L670.2 288.3 L668.2 286.5 L668.2 285.5 L668.2 284.6 L668.2 283.6 L668.2 282.7 L668.1 281.8 L668 280.9 L667.8 280.1 L667.7 279.2 L667.5 278.4 L667.3 277.6 L667 276.8 L666.8 276 L666.4 275.2 L666.1 274.5 L665.8 273.8 L665.4 273.1 L664.9 272.4 L664.5 271.7 L664 271.1 L663.5 270.5 L663 270.2 L662.4 269.9 L661.8 269.7 L661.2 269.5 L660.6 269.4 L660 269.3 L659.4 269.2 L658.8 269.2 L658.2 269.2 L657.6 269.2 L656.9 269.3 L656.3 269.3 L655.7 269.4 L655.1 269.5 L654.6 269.6 L654 269.7 L653.5 269.9 L653 270 L652.5 270.1 L652 270.2 L651 270.5 L649.9 270.8 L648.9 271.2 L647.8 271.7 L646.8 272.1 L645.8 272.7 L644.7 273.3 L643.7 273.9 L642.7 274.6 L641.8 275.3 L640.8 276 L639.8 276.9 L638.9 277.7 L638 278.6 L637.1 279.6 L636.2 280.6 L635.4 281.6 L634.6 282.7 L633.8 283.8 L633 285 L631.5 286.6Z" fill="#0e62c4" stroke="#10293f" stroke-width="2.2" stroke-linejoin="round" stroke-linecap="round" />
<path d="M627.3 284.5 L626.9 283.5 L626.6 282.6 L626.3 281.6 L626.1 280.6 L626 279.6 L625.9 278.7 L625.9 277.7 L625.9 276.8 L626 275.9 L626.2 274.9 L626.4 274 L626.6 273.1 L626.9 272.2 L627.3 271.4 L627.7 270.5 L628.2 269.7 L628.7 268.8 L629.2 268 L629.8 267.3 L630.5 266.5 L631.3 265.7 L632.2 264.9 L633.1 264.1 L634.1 263.4 L635.1 262.7 L636.1 262 L637.1 261.4 L638.2 260.9 L639.3 260.3 L640.4 259.8 L641.6 259.3 L642.8 258.9 L644 258.5 L645.2 258.2 L646.5 257.9 L647.7 257.6 L649 257.3 L650.3 257.1 L651.7 256.9 L653 256.8 L653 259 L651.8 259.1 L650.6 259.3 L649.5 259.5 L648.4 259.7 L647.3 260 L646.2 260.2 L645.2 260.6 L644.1 260.9 L643.1 261.3 L642.1 261.7 L641.2 262.1 L640.2 262.6 L639.3 263.1 L638.4 263.6 L637.5 264.2 L636.7 264.8 L635.9 265.4 L635 266.1 L634.3 266.8 L633.5 267.5 L632.9 268.3 L632.3 269 L631.7 269.8 L631.2 270.6 L630.8 271.4 L630.4 272.2 L630 273.1 L629.7 273.9 L629.5 274.7 L629.3 275.6 L629.2 276.4 L629.1 277.3 L629 278.1 L629 279 L629.1 279.8 L629.2 280.7 L629.3 281.5 L629.5 282.3 L629.7 283.2 L630 284Z" fill="#3f88de" stroke="#10293f" stroke-width="1.2" stroke-linejoin="round" stroke-linecap="round" />
<path d="M657 256.5 L657.9 256.8 L658.8 257.2 L659.6 257.6 L660.4 258 L661.2 258.5 L662 259 L662.7 259.5 L663.4 260.1 L664.1 260.7 L664.8 261.4 L665.4 262.1 L666 262.8 L666.5 263.6 L667.1 264.4 L667.5 265.2 L668 266.1 L668.4 267 L668.8 268 L669.2 269 L669.5 270 L669.7 270.9 L670 271.8 L670.2 272.6 L670.4 273.5 L670.5 274.3 L670.7 275.2 L670.8 276 L670.9 276.8 L671 277.6 L671.1 278.4 L671.2 279.2 L671.2 279.9 L671.3 280.7 L671.3 281.5 L671.3 282.2 L671.4 283 L671.4 283.7 L671.3 284.5 L671.3 285.2 L671.3 286 L669.6 286 L669.6 285.1 L669.5 284.2 L669.5 283.3 L669.4 282.4 L669.3 281.5 L669.3 280.6 L669.1 279.7 L669 278.9 L668.9 278 L668.7 277.1 L668.5 276.3 L668.3 275.4 L668.1 274.6 L667.9 273.7 L667.6 272.9 L667.3 272.1 L667 271.3 L666.7 270.5 L666.4 269.8 L666 269 L665.6 268.3 L665.2 267.7 L664.8 267 L664.4 266.4 L663.9 265.8 L663.5 265.2 L663 264.7 L662.6 264.1 L662.1 263.6 L661.6 263.1 L661.1 262.6 L660.5 262.2 L660 261.7 L659.5 261.3 L658.9 260.9 L658.3 260.5 L657.8 260.2 L657.2 259.9 L656.6 259.6 L656 259.3Z" fill="#3f88de" stroke="#10293f" stroke-width="1.2" stroke-linejoin="round" stroke-linecap="round" />
<path d="M653.6 255.5 L653.6 270" fill="none" stroke="#10293f" stroke-width="1.6" stroke-linejoin="round" stroke-linecap="round" />
<path d="M697.5 284 L697.8 281.7 L698.5 279.6 L699.5 277.7 L700.9 276 L710.5 266.4 L712.3 264.9 L714.3 263.8 L716.5 262.9 L719 262.4 L721.7 262.2 L724.4 262.3 L727.3 262.8 L730.2 263.6 L733.1 264.6 L735.9 266 L738.6 267.7 L741.1 269.6 L743.5 271.6 L745.6 273.9 L747.4 276.3 L748.9 278.8 L750 281.3 L750.8 283.9 L751.3 286.4 L751.3 288.8 L751 291.1 L750.3 293.2 L749.3 295.1 L747.9 296.8 L738.3 306.4 L736.5 307.9 L734.5 309 L732.3 309.9 L729.8 310.4 L727.1 310.6 L724.4 310.5 L721.5 310 L718.6 309.2 L715.7 308.2 L712.9 306.8 L710.2 305.1 L707.7 303.2 L705.3 301.2 L703.2 298.9 L701.4 296.5 L699.9 294 L698.8 291.5 L698 288.9 L697.5 286.4Z" fill="#3f88de" stroke="#10293f" stroke-width="2.2" stroke-linejoin="round" stroke-linecap="round" />
<path d="M739.7 304.7 L738.3 306.4 L736.5 307.9 L734.5 309 L732.3 309.9 L729.8 310.4 L727.1 310.6 L724.4 310.5 L721.5 310 L718.6 309.2 L715.7 308.2 L712.9 306.8 L710.2 305.1 L707.7 303.2 L705.3 301.2 L703.2 298.9 L701.4 296.5 L699.9 294 L698.8 291.5 L698 288.9 L697.5 286.4 L697.5 284 L697.8 281.7 L698.5 279.6 L699.5 277.7 L700.9 276 L702.7 274.5 L704.7 273.4 L706.9 272.5 L709.4 272 L712.1 271.8 L714.8 271.9 L717.7 272.4 L720.6 273.2 L723.5 274.2 L726.3 275.6 L729 277.3 L731.5 279.2 L733.9 281.2 L736 283.5 L737.8 285.9 L739.3 288.4 L740.4 290.9 L741.2 293.5 L741.7 296 L741.7 298.4 L741.4 300.7 L740.7 302.8 L739.7 304.7Z" fill="#3f88de" stroke="#10293f" stroke-width="2.2" stroke-linejoin="round" stroke-linecap="round" />
<path d="M737.5 303.3 L736.3 304.7 L734.8 305.9 L733.1 306.9 L731.1 307.5 L729 307.9 L726.6 308.1 L724.2 307.9 L721.7 307.4 L719.1 306.7 L716.6 305.7 L714.1 304.4 L711.7 303 L709.4 301.3 L707.3 299.4 L705.4 297.5 L703.8 295.4 L702.4 293.2 L701.3 291 L700.6 288.8 L700.1 286.6 L700 284.5 L700.2 282.6 L700.8 280.8 L701.7 279.1 L702.9 277.7 L704.4 276.5 L706.1 275.5 L708.1 274.9 L710.2 274.5 L712.6 274.3 L715 274.5 L717.5 275 L720.1 275.7 L722.6 276.7 L725.1 278 L727.5 279.4 L729.8 281.1 L731.9 283 L733.8 284.9 L735.4 287 L736.8 289.2 L737.9 291.4 L738.6 293.6 L739.1 295.8 L739.2 297.9 L739 299.8 L738.4 301.6 L737.5 303.3Z" fill="#3f88de" stroke="#10293f" stroke-width="1.4" stroke-linejoin="round" stroke-linecap="round" />
<clipPath id="rl1"><path d="M737.5 303.3 L736.3 304.7 L734.8 305.9 L733.1 306.9 L731.1 307.5 L729 307.9 L726.6 308.1 L724.2 307.9 L721.7 307.4 L719.1 306.7 L716.6 305.7 L714.1 304.4 L711.7 303 L709.4 301.3 L707.3 299.4 L705.4 297.5 L703.8 295.4 L702.4 293.2 L701.3 291 L700.6 288.8 L700.1 286.6 L700 284.5 L700.2 282.6 L700.8 280.8 L701.7 279.1 L702.9 277.7 L704.4 276.5 L706.1 275.5 L708.1 274.9 L710.2 274.5 L712.6 274.3 L715 274.5 L717.5 275 L720.1 275.7 L722.6 276.7 L725.1 278 L727.5 279.4 L729.8 281.1 L731.9 283 L733.8 284.9 L735.4 287 L736.8 289.2 L737.9 291.4 L738.6 293.6 L739.1 295.8 L739.2 297.9 L739 299.8 L738.4 301.6 L737.5 303.3Z"/></clipPath>
<g clip-path="url(#rl1)"><path d="M745.1 295.5 L743.9 296.9 L742.4 298.1 L740.7 299.1 L738.7 299.7 L736.6 300.1 L734.2 300.3 L731.8 300.1 L729.3 299.6 L726.7 298.9 L724.2 297.9 L721.7 296.6 L719.3 295.2 L717 293.5 L714.9 291.6 L713 289.7 L711.4 287.6 L710 285.4 L708.9 283.2 L708.2 281 L707.7 278.8 L707.6 276.7 L707.8 274.8 L708.4 273 L709.3 271.3 L710.5 269.9 L712 268.7 L713.7 267.7 L715.7 267.1 L717.8 266.7 L720.2 266.5 L722.6 266.7 L725.1 267.2 L727.7 267.9 L730.2 268.9 L732.7 270.2 L735.1 271.6 L737.4 273.3 L739.5 275.2 L741.4 277.1 L743 279.2 L744.4 281.4 L745.5 283.6 L746.2 285.8 L746.7 288 L746.8 290.1 L746.6 292 L746 293.8 L745.1 295.5Z" fill="#ffffff" stroke="#10293f" stroke-width="2.2" stroke-linejoin="round" stroke-linecap="round" /></g>
<path d="M737.5 303.3 L736.3 304.7 L734.8 305.9 L733.1 306.9 L731.1 307.5 L729 307.9 L726.6 308.1 L724.2 307.9 L721.7 307.4 L719.1 306.7 L716.6 305.7 L714.1 304.4 L711.7 303 L709.4 301.3 L707.3 299.4 L705.4 297.5 L703.8 295.4 L702.4 293.2 L701.3 291 L700.6 288.8 L700.1 286.6 L700 284.5 L700.2 282.6 L700.8 280.8 L701.7 279.1 L702.9 277.7 L704.4 276.5 L706.1 275.5 L708.1 274.9 L710.2 274.5 L712.6 274.3 L715 274.5 L717.5 275 L720.1 275.7 L722.6 276.7 L725.1 278 L727.5 279.4 L729.8 281.1 L731.9 283 L733.8 284.9 L735.4 287 L736.8 289.2 L737.9 291.4 L738.6 293.6 L739.1 295.8 L739.2 297.9 L739 299.8 L738.4 301.6 L737.5 303.3Z" fill="none" stroke="#10293f" stroke-width="1.4" stroke-linejoin="round" stroke-linecap="round" />
<path d="M724.8 310.5 L729.3 310.5 L729.3 316 L724.8 316Z" fill="#3f88de" stroke="#10293f" stroke-width="1.6" stroke-linejoin="round" stroke-linecap="round" />
<path d="M707.1 339.3 L707.3 336.2 L707.8 333.2 L708.7 330.3 L709.8 327.6 L711.3 325.1 L713.1 322.8 L715.1 320.7 L717.3 319 L719.7 317.7 L722.2 316.7 L724.8 316.1 L727.5 315.9 L737.1 316.3 L739.8 316.5 L742.4 317.1 L744.9 318.1 L747.3 319.4 L749.5 321.1 L751.5 323.2 L753.3 325.5 L754.8 328 L755.9 330.7 L756.8 333.6 L757.3 336.6 L757.5 339.7 L757.3 342.8 L756.8 345.8 L755.9 348.7 L754.8 351.4 L753.3 353.9 L751.5 356.2 L749.5 358.3 L747.3 360 L744.9 361.3 L742.4 362.3 L739.8 362.9 L737.1 363.1 L727.5 362.7 L724.8 362.5 L722.2 361.9 L719.7 360.9 L717.3 359.6 L715.1 357.9 L713.1 355.8 L711.3 353.5 L709.8 351 L708.7 348.3 L707.8 345.4 L707.3 342.4Z" fill="#3f88de" stroke="#10293f" stroke-width="2.2" stroke-linejoin="round" stroke-linecap="round" />
<path d="M747.9 339.3 L747.7 342.4 L747.2 345.4 L746.3 348.3 L745.2 351 L743.7 353.5 L741.9 355.8 L739.9 357.9 L737.7 359.6 L735.3 360.9 L732.8 361.9 L730.2 362.5 L727.5 362.7 L724.8 362.5 L722.2 361.9 L719.7 360.9 L717.3 359.6 L715.1 357.9 L713.1 355.8 L711.3 353.5 L709.8 351 L708.7 348.3 L707.8 345.4 L707.3 342.4 L707.1 339.3 L707.3 336.2 L707.8 333.2 L708.7 330.3 L709.8 327.6 L711.3 325.1 L713.1 322.8 L715.1 320.7 L717.3 319 L719.7 317.7 L722.2 316.7 L724.8 316.1 L727.5 315.9 L730.2 316.1 L732.8 316.7 L735.3 317.7 L737.7 319 L739.9 320.7 L741.9 322.8 L743.7 325.1 L745.2 327.6 L746.3 330.3 L747.2 333.2 L747.7 336.2 L747.9 339.3Z" fill="#3f88de" stroke="#10293f" stroke-width="2.2" stroke-linejoin="round" stroke-linecap="round" />
<path d="M728.8 320.1 L729.2 320.6 L729.6 321.2 L729.8 321.9 L729.9 322.6 L729.9 323.5 L729.8 324.4 L729.6 325.4 L729.2 326.3 L728.8 327.3 L728.2 328.3 L727.6 329.3 L726.8 330.2 L726 331.1 L725.2 331.9 L724.3 332.6 L723.4 333.2 L722.5 333.7 L721.6 334.1 L720.7 334.4 L719.9 334.6 L719.1 334.6 L718.4 334.5 L717.8 334.3 L717.2 333.9 L716.8 333.4 L716.4 332.8 L716.2 332.1 L716.1 331.4 L716.1 330.5 L716.2 329.6 L716.4 328.6 L716.8 327.7 L717.2 326.7 L717.8 325.7 L718.4 324.7 L719.2 323.8 L720 322.9 L720.8 322.1 L721.7 321.4 L722.6 320.8 L723.5 320.3 L724.4 319.9 L725.3 319.6 L726.1 319.4 L726.9 319.4 L727.6 319.5 L728.2 319.7 L728.8 320.1Z" fill="#0e62c4" stroke="none" stroke-width="0" stroke-linejoin="round" stroke-linecap="round" />
<path d="M746.7 339.3 L746.5 342.1 L746 344.8 L745.3 347.4 L744.2 349.8 L742.9 352.1 L741.4 354.2 L739.6 356 L737.7 357.5 L735.5 358.7 L733.3 359.6 L731 360.2 L728.7 360.3 L726.3 360.2 L724 359.6 L721.8 358.7 L719.7 357.5 L717.7 356 L715.9 354.2 L714.4 352.1 L713.1 349.8 L712 347.4 L711.3 344.8 L710.8 342.1 L710.7 339.3 L710.8 336.6 L711.3 333.9 L712 331.3 L713.1 328.8 L714.4 326.6 L715.9 324.5 L717.7 322.7 L719.7 321.2 L721.8 319.9 L724 319.1 L726.3 318.5 L728.7 318.3 L731 318.5 L733.3 319.1 L735.5 319.9 L737.7 321.2 L739.6 322.7 L741.4 324.5 L742.9 326.6 L744.2 328.8 L745.3 331.3 L746 333.9 L746.5 336.6 L746.7 339.3Z" fill="none" stroke="#10293f" stroke-width="1.3" stroke-linejoin="round" stroke-linecap="round" />
<path d="M744.4 335.4 L745 337.9 L745.3 340.4 L745.4 342.9 L745.3 345.3 L744.9 347.7 L744.3 349.8 L743.5 351.8 L742.4 353.6 L741.2 355.1 L739.9 356.3 L738.3 357.2 L736.7 357.8 L735 358.1 L733.2 358.1 L731.4 357.7 L729.6 357 L727.8 356 L726.1 354.7 L724.5 353.1 L723 351.3 L721.7 349.3 L720.5 347.1 L719.5 344.7 L718.8 342.2 L718.2 339.7 L717.9 337.2 L717.8 334.7 L717.9 332.3 L718.3 329.9 L718.9 327.8 L719.7 325.8 L720.8 324 L722 322.5 L723.4 321.3 L724.9 320.4 L726.5 319.8 L728.2 319.5 L730 319.5 L731.8 319.9 L733.6 320.6 L735.4 321.6 L737.1 322.9 L738.7 324.5 L740.2 326.3 L741.5 328.3 L742.7 330.6 L743.7 332.9 L744.4 335.4Z" fill="#ffffff" stroke="#10293f" stroke-width="2.2" stroke-linejoin="round" stroke-linecap="round" />
<path d="M728.8 363.5 L737.2 363.5 L737.2 371 L728.8 371Z" fill="#3f88de" stroke="#10293f" stroke-width="1.6" stroke-linejoin="round" stroke-linecap="round" />
<path d="M706 395.2 L706.2 392 L706.7 388.8 L707.6 385.8 L708.8 382.9 L710.3 380.2 L712.1 377.8 L714.1 375.7 L716.4 373.9 L718.8 372.5 L721.4 371.4 L724.1 370.8 L733.1 369.8 L735.8 369.6 L738.5 369.8 L741.2 370.4 L743.8 371.5 L746.2 372.9 L748.5 374.7 L750.5 376.8 L752.3 379.2 L753.8 381.9 L755 384.8 L755.9 387.8 L756.4 391 L756.6 394.2 L756.4 397.4 L755.9 400.6 L755 403.6 L753.8 406.5 L752.3 409.2 L750.5 411.6 L748.5 413.7 L746.2 415.5 L743.8 416.9 L741.2 418 L738.5 418.6 L729.5 419.6 L726.8 419.8 L724.1 419.6 L721.4 419 L718.8 417.9 L716.4 416.5 L714.1 414.7 L712.1 412.6 L710.3 410.2 L708.8 407.5 L707.6 404.6 L706.7 401.6 L706.2 398.4Z" fill="#3f88de" stroke="#10293f" stroke-width="2.2" stroke-linejoin="round" stroke-linecap="round" />
<path d="M747.6 395.2 L747.4 398.4 L746.9 401.6 L746 404.6 L744.8 407.5 L743.3 410.2 L741.5 412.6 L739.5 414.7 L737.2 416.5 L734.8 417.9 L732.2 419 L729.5 419.6 L726.8 419.8 L724.1 419.6 L721.4 419 L718.8 417.9 L716.4 416.5 L714.1 414.7 L712.1 412.6 L710.3 410.2 L708.8 407.5 L707.6 404.6 L706.7 401.6 L706.2 398.4 L706 395.2 L706.2 392 L706.7 388.8 L707.6 385.8 L708.8 382.9 L710.3 380.2 L712.1 377.8 L714.1 375.7 L716.4 373.9 L718.8 372.5 L721.4 371.4 L724.1 370.8 L726.8 370.6 L729.5 370.8 L732.2 371.4 L734.8 372.5 L737.2 373.9 L739.5 375.7 L741.5 377.8 L743.3 380.2 L744.8 382.9 L746 385.8 L746.9 388.8 L747.4 392 L747.6 395.2Z" fill="#3f88de" stroke="#10293f" stroke-width="2.2" stroke-linejoin="round" stroke-linecap="round" />
<path d="M725.8 375.1 L726.2 375.6 L726.6 376.2 L726.8 376.9 L726.9 377.6 L726.9 378.5 L726.8 379.4 L726.6 380.4 L726.2 381.3 L725.8 382.3 L725.2 383.3 L724.6 384.3 L723.8 385.2 L723 386.1 L722.2 386.9 L721.3 387.6 L720.4 388.2 L719.5 388.7 L718.6 389.1 L717.7 389.4 L716.9 389.6 L716.1 389.6 L715.4 389.5 L714.8 389.3 L714.2 388.9 L713.8 388.4 L713.4 387.8 L713.2 387.1 L713.1 386.4 L713.1 385.5 L713.2 384.6 L713.4 383.6 L713.8 382.7 L714.2 381.7 L714.8 380.7 L715.4 379.7 L716.2 378.8 L717 377.9 L717.8 377.1 L718.7 376.4 L719.6 375.8 L720.5 375.3 L721.4 374.9 L722.3 374.6 L723.1 374.4 L723.9 374.4 L724.6 374.5 L725.2 374.7 L725.8 375.1Z" fill="#0e62c4" stroke="none" stroke-width="0" stroke-linejoin="round" stroke-linecap="round" />
<path d="M746.3 395.1 L746.1 398 L745.7 400.8 L744.9 403.6 L743.8 406.2 L742.5 408.6 L740.9 410.8 L739.1 412.7 L737.1 414.3 L734.9 415.6 L732.6 416.5 L730.3 417.1 L727.9 417.3 L725.5 417.1 L723.1 416.5 L720.8 415.6 L718.7 414.3 L716.7 412.7 L714.9 410.8 L713.3 408.6 L711.9 406.2 L710.9 403.6 L710.1 400.8 L709.6 398 L709.5 395.1 L709.6 392.2 L710.1 389.3 L710.9 386.6 L711.9 384 L713.3 381.6 L714.9 379.4 L716.7 377.5 L718.7 375.9 L720.8 374.6 L723.1 373.6 L725.5 373.1 L727.9 372.9 L730.3 373.1 L732.6 373.6 L734.9 374.6 L737.1 375.9 L739.1 377.5 L740.9 379.4 L742.5 381.6 L743.8 384 L744.9 386.6 L745.7 389.3 L746.1 392.2 L746.3 395.1Z" fill="none" stroke="#10293f" stroke-width="1.3" stroke-linejoin="round" stroke-linecap="round" />
<path d="M743.6 400 L742.6 402.6 L741.4 405 L740 407.2 L738.4 409.2 L736.8 411 L735 412.6 L733.2 413.8 L731.3 414.8 L729.5 415.4 L727.7 415.6 L725.9 415.6 L724.3 415.1 L722.8 414.4 L721.4 413.3 L720.2 412 L719.1 410.3 L718.3 408.4 L717.7 406.3 L717.4 404 L717.3 401.5 L717.4 399 L717.8 396.4 L718.4 393.7 L719.2 391.2 L720.2 388.6 L721.4 386.2 L722.8 384 L724.4 382 L726 380.2 L727.8 378.6 L729.6 377.4 L731.5 376.4 L733.3 375.8 L735.1 375.6 L736.9 375.6 L738.5 376.1 L740 376.8 L741.4 377.9 L742.6 379.2 L743.7 380.9 L744.5 382.8 L745.1 384.9 L745.4 387.2 L745.5 389.7 L745.4 392.2 L745 394.8 L744.4 397.5 L743.6 400Z" fill="#ffffff" stroke="#10293f" stroke-width="2.2" stroke-linejoin="round" stroke-linecap="round" />
<path d="M722.4 418.5 L727.6 418.5 L726.6 425.5 L722.4 425.5Z" fill="#3f88de" stroke="#10293f" stroke-width="1.6" stroke-linejoin="round" stroke-linecap="round" />
<path d="M691.7 448.3 L691.7 445.9 L692.1 443.4 L692.9 440.8 L694 438.3 L695.5 435.7 L697.3 433.3 L699.3 430.9 L701.6 428.7 L704.2 426.7 L706.8 425 L709.6 423.4 L712.5 422.2 L715.4 421.3 L718.3 420.7 L721.1 420.4 L723.7 420.5 L726.2 420.8 L728.5 421.6 L730.5 422.6 L732.3 423.9 L741.9 432.5 L743.3 434.1 L744.4 436 L745.1 438.1 L745.5 440.3 L745.5 442.7 L745.1 445.2 L744.3 447.8 L743.2 450.3 L741.7 452.9 L739.9 455.3 L737.9 457.7 L735.6 459.9 L733 461.9 L730.4 463.6 L727.6 465.2 L724.7 466.4 L721.8 467.3 L718.9 467.9 L716.1 468.2 L713.5 468.1 L711 467.8 L708.7 467 L706.7 466 L704.9 464.7 L695.3 456.1 L693.9 454.5 L692.8 452.6 L692.1 450.5Z" fill="#3f88de" stroke="#10293f" stroke-width="2.2" stroke-linejoin="round" stroke-linecap="round" />
<path d="M733.7 425.5 L734.8 427.4 L735.5 429.5 L735.9 431.7 L735.9 434.1 L735.5 436.6 L734.7 439.2 L733.6 441.7 L732.1 444.3 L730.3 446.7 L728.3 449.1 L726 451.3 L723.4 453.3 L720.8 455 L718 456.6 L715.1 457.8 L712.2 458.7 L709.3 459.3 L706.5 459.6 L703.9 459.5 L701.4 459.2 L699.1 458.4 L697.1 457.4 L695.3 456.1 L693.9 454.5 L692.8 452.6 L692.1 450.5 L691.7 448.3 L691.7 445.9 L692.1 443.4 L692.9 440.8 L694 438.3 L695.5 435.7 L697.3 433.3 L699.3 430.9 L701.6 428.7 L704.2 426.7 L706.8 425 L709.6 423.4 L712.5 422.2 L715.4 421.3 L718.3 420.7 L721.1 420.4 L723.7 420.5 L726.2 420.8 L728.5 421.6 L730.5 422.6 L732.3 423.9 L733.7 425.5Z" fill="#3f88de" stroke="#10293f" stroke-width="2.2" stroke-linejoin="round" stroke-linecap="round" />
<path d="M731.4 427.2 L732.3 428.7 L732.9 430.5 L733.2 432.4 L733.1 434.4 L732.7 436.5 L731.9 438.7 L730.9 440.9 L729.5 443.1 L727.9 445.3 L726.1 447.3 L724 449.2 L721.8 451 L719.4 452.6 L717 453.9 L714.4 455.1 L711.9 455.9 L709.4 456.5 L707 456.8 L704.7 456.9 L702.5 456.6 L700.6 456 L698.8 455.2 L697.4 454.1 L696.2 452.8 L695.3 451.3 L694.7 449.5 L694.4 447.6 L694.5 445.6 L694.9 443.5 L695.7 441.3 L696.7 439.1 L698.1 436.9 L699.7 434.7 L701.5 432.7 L703.6 430.8 L705.8 429 L708.2 427.4 L710.6 426.1 L713.2 424.9 L715.7 424.1 L718.2 423.5 L720.6 423.2 L722.9 423.1 L725.1 423.4 L727 424 L728.8 424.8 L730.2 425.9 L731.4 427.2Z" fill="#0e62c4" stroke="#10293f" stroke-width="1.4" stroke-linejoin="round" stroke-linecap="round" />
<clipPath id="rl2"><path d="M731.4 427.2 L732.3 428.7 L732.9 430.5 L733.2 432.4 L733.1 434.4 L732.7 436.5 L731.9 438.7 L730.9 440.9 L729.5 443.1 L727.9 445.3 L726.1 447.3 L724 449.2 L721.8 451 L719.4 452.6 L717 453.9 L714.4 455.1 L711.9 455.9 L709.4 456.5 L707 456.8 L704.7 456.9 L702.5 456.6 L700.6 456 L698.8 455.2 L697.4 454.1 L696.2 452.8 L695.3 451.3 L694.7 449.5 L694.4 447.6 L694.5 445.6 L694.9 443.5 L695.7 441.3 L696.7 439.1 L698.1 436.9 L699.7 434.7 L701.5 432.7 L703.6 430.8 L705.8 429 L708.2 427.4 L710.6 426.1 L713.2 424.9 L715.7 424.1 L718.2 423.5 L720.6 423.2 L722.9 423.1 L725.1 423.4 L727 424 L728.8 424.8 L730.2 425.9 L731.4 427.2Z"/></clipPath>
<g clip-path="url(#rl2)"><path d="M739.4 435.7 L740.3 437.2 L740.9 439 L741.2 440.9 L741.1 442.9 L740.7 445 L739.9 447.2 L738.9 449.4 L737.5 451.6 L735.9 453.8 L734.1 455.8 L732 457.7 L729.8 459.5 L727.4 461.1 L725 462.4 L722.4 463.6 L719.9 464.4 L717.4 465 L715 465.3 L712.7 465.4 L710.5 465.1 L708.6 464.5 L706.8 463.7 L705.4 462.6 L704.2 461.3 L703.3 459.8 L702.7 458 L702.4 456.1 L702.5 454.1 L702.9 452 L703.7 449.8 L704.7 447.6 L706.1 445.4 L707.7 443.2 L709.5 441.2 L711.6 439.3 L713.8 437.5 L716.2 435.9 L718.6 434.6 L721.2 433.4 L723.7 432.6 L726.2 432 L728.6 431.7 L730.9 431.6 L733.1 431.9 L735 432.5 L736.8 433.3 L738.2 434.4 L739.4 435.7Z" fill="#ffffff" stroke="#10293f" stroke-width="2.2" stroke-linejoin="round" stroke-linecap="round" /></g>
<path d="M731.4 427.2 L732.3 428.7 L732.9 430.5 L733.2 432.4 L733.1 434.4 L732.7 436.5 L731.9 438.7 L730.9 440.9 L729.5 443.1 L727.9 445.3 L726.1 447.3 L724 449.2 L721.8 451 L719.4 452.6 L717 453.9 L714.4 455.1 L711.9 455.9 L709.4 456.5 L707 456.8 L704.7 456.9 L702.5 456.6 L700.6 456 L698.8 455.2 L697.4 454.1 L696.2 452.8 L695.3 451.3 L694.7 449.5 L694.4 447.6 L694.5 445.6 L694.9 443.5 L695.7 441.3 L696.7 439.1 L698.1 436.9 L699.7 434.7 L701.5 432.7 L703.6 430.8 L705.8 429 L708.2 427.4 L710.6 426.1 L713.2 424.9 L715.7 424.1 L718.2 423.5 L720.6 423.2 L722.9 423.1 L725.1 423.4 L727 424 L728.8 424.8 L730.2 425.9 L731.4 427.2Z" fill="none" stroke="#10293f" stroke-width="1.4" stroke-linejoin="round" stroke-linecap="round" />
<path d="M674 486.5 L676.1 487.1 L678.3 487.5 L680.5 487.9 L682.8 488.2 L685.1 488.4 L687.4 488.5 L689.7 488.6 L692 488.5 L694.3 488.4 L696.6 488.2 L698.8 487.9 L701 487.5 L703.2 487.1 L705.3 486.6 L707.4 486 L709.4 485.3 L711.3 484.6 L713.1 483.8 L714.9 482.9 L716.5 482 L718 476 L694 471 L676 478Z" fill="#0e62c4" stroke="#10293f" stroke-width="2.2" stroke-linejoin="round" stroke-linecap="round" />
<path d="M692.9 458.7 L712.8 457.5 L713.3 457.8 L713.7 458.1 L714.1 458.4 L714.5 458.8 L714.9 459.1 L715.3 459.4 L715.6 459.8 L715.9 460.1 L716.2 460.5 L716.4 460.9 L716.7 461.3 L716.9 461.6 L717.1 462 L717.2 462.4 L717.4 462.8 L717.5 463.3 L717.6 463.7 L717.7 464.1 L717.8 464.6 L717.8 465 L718 476.3 L716.9 475.7 L715.9 475.2 L714.8 474.8 L713.7 474.3 L712.6 473.9 L711.4 473.6 L710.3 473.2 L709.1 472.9 L707.9 472.6 L706.8 472.4 L705.5 472.2 L704.3 472 L703.1 471.9 L701.8 471.8 L700.6 471.7 L699.3 471.6 L698 471.6 L696.7 471.6 L695.3 471.6 L694 471.6Z" fill="#3f88de" stroke="#10293f" stroke-width="2.2" stroke-linejoin="round" stroke-linecap="round" />
<path d="M641.4 463.5 L643.5 462 L645.9 460.6 L648.3 459.4 L650.9 458.4 L653.7 457.5 L656.5 456.7 L659.4 456 L662.3 455.5 L665.3 455.2 L668.3 454.9 L671.3 454.8 L674.2 454.9 L677.1 455 L679.9 455.3 L682.6 455.7 L685.2 456.2 L687.7 456.9 L690 457.6 L692.1 458.5 L694 459.5 L694.6 476.3 L692.3 477.8 L689.9 479.2 L687.4 480.4 L684.8 481.4 L682 482.3 L679.3 483 L676.4 483.6 L673.5 484 L670.6 484.2 L667.7 484.3 L664.8 484.2 L661.9 484 L659.1 483.6 L656.3 483 L653.6 482.3 L651 481.4 L648.5 480.4 L646.2 479.2 L644 477.8 L641.9 476.3Z" fill="#3f88de" stroke="#10293f" stroke-width="2.2" stroke-linejoin="round" stroke-linecap="round" />
<ellipse cx="668" cy="476.3" rx="26.2" ry="8.2" fill="#0e62c4" stroke="#10293f" stroke-width="2.2"/>
<path d="M625.2 432.3 L630.4 432.3 L631.1 433.7 L631.5 434.6 L631.9 435.4 L632.3 436.2 L632.8 437 L633.2 437.7 L633.7 438.5 L634.3 439.2 L634.8 439.9 L635.4 440.6 L635.9 441.3 L636.5 441.9 L637.2 442.5 L637.8 443.1 L638.5 443.7 L639.1 444.2 L639.8 444.7 L640.5 445.2 L641.3 445.6 L642 446 L642.9 446.5 L643.9 447 L644.8 447.4 L645.8 447.8 L646.8 448.1 L647.8 448.4 L648.9 448.7 L649.9 448.9 L651 449.1 L652 449.2 L653.1 449.3 L654.2 449.3 L655.2 449.3 L656.3 449.3 L657.4 449.2 L658.4 449.1 L659.4 448.9 L660.4 448.7 L661.4 448.4 L662.4 448.1 L662.9 447.8 L663.3 447.5 L663.7 447.1 L664.1 446.6 L664.4 446 L664.7 445.5 L665 444.8 L665.3 444.1 L665.6 443.4 L665.8 442.6 L666 441.7 L666.2 440.9 L666.4 440 L666.5 439 L666.7 438 L666.8 437.1 L666.9 436 L667 435 L667 434 L667.1 432.9 L672 432.9 L672.1 434.1 L672.1 435.4 L672.2 436.7 L672.2 437.9 L672.2 439.2 L672.1 440.6 L672.1 441.9 L671.9 443.2 L671.8 444.5 L671.6 445.8 L671.4 447.1 L671.1 448.4 L670.8 449.6 L670.4 450.9 L670 452.1 L669.5 453.2 L669 454.4 L668.4 455.5 L667.8 456.5 L667.1 457.5 L666.1 458.4 L665.1 459.1 L664 459.8 L662.9 460.5 L661.7 461 L660.4 461.5 L659.1 461.9 L657.8 462.2 L656.4 462.5 L655 462.6 L653.6 462.8 L652.1 462.8 L650.6 462.8 L649.1 462.8 L647.6 462.6 L646.1 462.5 L644.5 462.2 L643 461.9 L641.5 461.6 L640 461.2 L638.5 460.7 L637.1 460.1 L635.7 459.5 L634.4 458.8 L633.1 458.1 L631.9 457.3 L630.7 456.4 L629.6 455.6 L628.6 454.7 L627.6 453.7 L626.8 452.7 L625.9 451.7 L625.2 450.7 L624.5 449.6 L623.9 448.6 L623.4 447.5 L623 446.4 L622.6 445.2 L622.4 444.1 L622.2 443 L622.2 442.4 L622.1 441.8 L622.1 441.2 L622.1 440.6 L622.2 440 L622.3 439.4 L622.3 438.9 L622.4 438.3 L622.6 437.7 L622.7 437.2 L622.9 436.6 L623.1 436.1 L623.3 435.6 L623.5 435 L623.7 434.5 L624 434.1 L624.3 433.6 L624.6 433.1 L624.9 432.7 L625.2 432.3Z" fill="#3f88de" stroke="#10293f" stroke-width="2.2" stroke-linejoin="round" stroke-linecap="round" />
<path d="M626.6 434.5 L626.3 435.8 L626.1 437 L626 438.3 L626 439.6 L626.1 440.8 L626.2 442.1 L626.4 443.3 L626.8 444.5 L627.2 445.7 L627.6 446.8 L628.2 447.9 L628.8 449 L629.6 450.1 L630.4 451.1 L631.3 452.1 L632.3 453.1 L633.3 454 L634.5 454.9 L635.7 455.7 L637 456.5 L638.4 457.1 L639.8 457.7 L641.2 458.1 L642.6 458.5 L644 458.9 L645.5 459.2 L646.9 459.4 L648.3 459.5 L649.7 459.6 L651.1 459.6 L652.5 459.6 L653.8 459.5 L655.2 459.3 L656.4 459.1 L657.7 458.8 L658.9 458.4 L660 458 L661.1 457.6 L662.1 457.1 L663 456.5 L663.7 455.8 L664.4 455 L665 454.2 L665.6 453.3 L666.1 452.4 L666.5 451.4 L667 450.3 L667.3 449.3 L667.7 448.1 L668 447 L668.3 445.8 L668.5 444.6 L668.7 443.4 L668.8 442.1 L669 440.9 L669.1 439.6 L669.2 438.3 L669.2 437.1 L669.3 435.8 L669.3 434.5" fill="none" stroke="#10293f" stroke-width="1.3" stroke-linejoin="round" stroke-linecap="round" />
<path d="M649.5 460 L649.7 459.3 L650 458.5 L650.3 457.9 L650.6 457.2 L650.9 456.5 L651.2 455.9 L651.6 455.3 L652 454.7 L652.3 454.2 L652.8 453.6 L653.2 453.1 L653.6 452.6 L654.1 452.2 L654.5 451.7 L655 451.3 L655.5 450.9 L656 450.6 L656.5 450.2 L657 449.9 L657.5 449.6" fill="none" stroke="#10293f" stroke-width="1.3" stroke-linejoin="round" stroke-linecap="round" />
</g>
<g>
<g>
<text x="551" y="68.4" text-anchor="middle" direction="rtl" font-size="38.5" font-weight="400" style="fill:#121212" textLength="196.1" lengthAdjust="spacingAndGlyphs">اجزای بیرینگ</text>
<text x="219.6" y="578.2" text-anchor="middle" direction="rtl" font-size="25.1" font-weight="450" textLength="63.7" lengthAdjust="spacingAndGlyphs">آب بند</text>
<text x="336.8" y="623.2" text-anchor="middle" direction="rtl" font-size="24.9" font-weight="450" textLength="136.7" lengthAdjust="spacingAndGlyphs">حلقه‌ی خارجی</text>
<text x="524" y="577.2" text-anchor="middle" direction="rtl" font-size="26.2" font-weight="450" textLength="177.4" lengthAdjust="spacingAndGlyphs">المان‌های ساچمه</text>
<text x="671.5" y="620.9" text-anchor="middle" direction="rtl" font-size="24.8" font-weight="450" textLength="57.5" lengthAdjust="spacingAndGlyphs">قفسه</text>
<text x="802.2" y="578" text-anchor="middle" direction="rtl" font-size="25.1" font-weight="450" textLength="133.6" lengthAdjust="spacingAndGlyphs">حلقه‌ی داخلی</text>
<text x="916.8" y="616" text-anchor="middle" direction="rtl" font-size="25.3" font-weight="450" textLength="64.2" lengthAdjust="spacingAndGlyphs">آب بند</text>
</g>
<line x1="237.9" y1="506.8" x2="227.6" y2="549.5" stroke="#1c2a3a" stroke-width="2" stroke-linecap="round"/>
<line x1="386.4" y1="523.9" x2="352.6" y2="592.8" stroke="#1c2a3a" stroke-width="2" stroke-linecap="round"/>
<line x1="546.6" y1="504.6" x2="535.1" y2="549.1" stroke="#1c2a3a" stroke-width="2" stroke-linecap="round"/>
<line x1="688.1" y1="506" x2="671.4" y2="587.2" stroke="#1c2a3a" stroke-width="2" stroke-linecap="round"/>
<line x1="839.5" y1="477.9" x2="819.6" y2="549.7" stroke="#1c2a3a" stroke-width="2" stroke-linecap="round"/>
<line x1="953.5" y1="517.5" x2="935.3" y2="575.5" stroke="#1c2a3a" stroke-width="2" stroke-linecap="round"/>
</g>
</svg>
</body>
</html>
